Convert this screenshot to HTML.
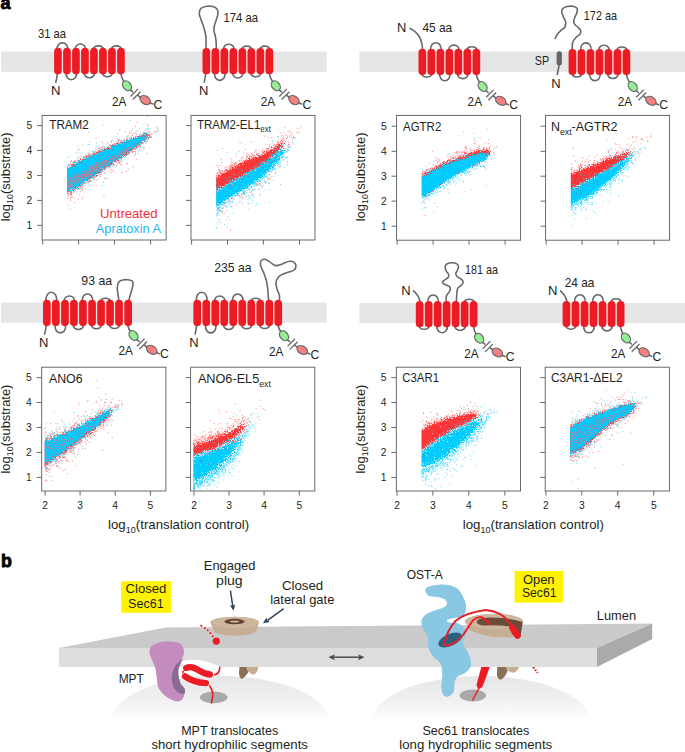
<!DOCTYPE html><html><head><meta charset="utf-8"><title>fig</title><style>html,body{margin:0;padding:0;background:#fff}svg{display:block}text{font-family:"Liberation Sans",sans-serif}</style></head><body>
<svg width="685" height="752" viewBox="0 0 685 752" fill="#231f20">
<rect width="685" height="752" fill="#fff"/>
<text x="0.4" y="9.2" font-size="18" fill="#000" font-weight="bold" stroke="#000" stroke-width="0.8">a</text>
<text x="0.9" y="566.9" font-size="17.8" fill="#000" font-weight="bold" stroke="#000" stroke-width="0.8">b</text>
<rect x="1" y="51.6" width="325.7" height="20.3" fill="#e6e6e6"/>
<rect x="359.5" y="51.5" width="325.5" height="20.4" fill="#e6e6e6"/>
<rect x="1" y="302.5" width="325.5" height="20.2" fill="#e6e6e6"/>
<rect x="359.5" y="303" width="325.5" height="20.2" fill="#e6e6e6"/>
<path d="M57.2,49.8C56,40.5 68.8,40.5 67.5,49.8M66.2,72.4C64.9,82.1 77.9,82.1 76.5,72.4M75.2,49.8C74.3,42.1 86.5,42.1 85.5,49.8M84.2,72.4C83.4,79.6 95.4,79.6 94.5,72.4M93.2,49.8C92.8,44.6 104,44.6 103.5,49.8M102.2,72.4C101.7,78.1 113.1,78.1 112.5,72.4M111.2,49.8C110.8,44.6 122,44.6 121.5,49.8M57.4,72.4Q57,78.4 55.8,82.2M120.7,72.4Q121.2,77.4 123.6,81.2M130.6,90.1L132.6,91.8M138,95.4L140,97.1M150.4,103.1L152.8,104" fill="none" stroke="#67686a" stroke-width="1.6" stroke-linecap="round"/>
<path d="M130.5,96.5L138.1,88.9M132.8,99.5L140.6,91.8" fill="none" stroke="#67686a" stroke-width="1.3"/>
<ellipse cx="127" cy="85.8" rx="5.4" ry="3.9" transform="rotate(52 127 85.8)" fill="#96ee94" stroke="#67686a" stroke-width="1.3"/>
<ellipse cx="145.2" cy="100.1" rx="5.6" ry="3.9" transform="rotate(33 145.2 100.1)" fill="#f68080" stroke="#67686a" stroke-width="1.3"/>
<rect x="54.1" y="47.8" width="7.7" height="26.6" rx="3.85" fill="#ed1c24"/>
<rect x="63.1" y="47.8" width="7.7" height="26.6" rx="3.85" fill="#ed1c24"/>
<rect x="72.1" y="47.8" width="7.7" height="26.6" rx="3.85" fill="#ed1c24"/>
<rect x="81.1" y="47.8" width="7.7" height="26.6" rx="3.85" fill="#ed1c24"/>
<rect x="90.1" y="47.8" width="7.7" height="26.6" rx="3.85" fill="#ed1c24"/>
<rect x="99.1" y="47.8" width="7.7" height="26.6" rx="3.85" fill="#ed1c24"/>
<rect x="108.1" y="47.8" width="7.7" height="26.6" rx="3.85" fill="#ed1c24"/>
<rect x="117.1" y="47.8" width="7.7" height="26.6" rx="3.85" fill="#ed1c24"/>
<text x="112" y="105.7" font-size="12.2" textLength="14.4" lengthAdjust="spacingAndGlyphs">2A</text>
<text x="153.6" y="108.6" font-size="12.2" textLength="8.8" lengthAdjust="spacingAndGlyphs">C</text>
<text x="37.9" y="38" font-size="12.2" textLength="28.2" lengthAdjust="spacingAndGlyphs">31 aa</text>
<text x="50.9" y="94.8" font-size="12.2" textLength="9.5" lengthAdjust="spacingAndGlyphs">N</text>
<path d="M206.2,50C206.1,48.8 206.1,45.3 206,43C206,40.7 206.1,38.5 205.8,36C205.4,33.5 204.8,30.7 204,28C203.3,25.3 201.9,22.4 201.2,20C200.4,17.6 199.3,15.5 199.3,13.5C199.3,11.5 199.9,9.4 201.2,8.2C202.4,7 204.9,6.6 206.8,6.3C208.8,6 211.1,6.1 212.8,6.6C214.6,7.1 216.5,8.3 217.3,9.5C218.2,10.7 218.1,12.2 217.9,14C217.8,15.8 216.8,18 216.2,20C215.6,22 214.7,24.2 214.3,26C214,27.8 213.8,29.2 214,31C214.2,32.8 215.2,35 215.5,37C215.9,39 216,40.8 216.2,43C216.3,45.2 216.3,48.8 216.3,50M214.7,72.3C213.2,83 226.4,83 224.9,72.3M223.7,50C222.7,42.3 234.9,42.3 233.9,50M232.7,72.3C231.8,79.8 243.8,79.8 242.9,72.3M241.7,50C241.2,44.8 252.4,44.8 251.9,50M250.7,72.3C250,78.3 261.6,78.3 261,72.3M259.7,50C259.2,44.8 270.4,44.8 270,50M205.8,72.3Q205.3,78.3 204.2,82.1M269.1,72.3Q269.7,77.3 272.4,81.2M279.4,90.1L281.4,91.8M286.8,95.4L288.8,97.1M299.2,103.1L301.6,104" fill="none" stroke="#67686a" stroke-width="1.6" stroke-linecap="round"/>
<path d="M279.3,96.5L286.9,88.9M281.6,99.5L289.4,91.8" fill="none" stroke="#67686a" stroke-width="1.3"/>
<ellipse cx="275.8" cy="85.8" rx="5.4" ry="3.9" transform="rotate(52 275.8 85.8)" fill="#96ee94" stroke="#67686a" stroke-width="1.3"/>
<ellipse cx="294" cy="100.1" rx="5.6" ry="3.9" transform="rotate(33 294 100.1)" fill="#f68080" stroke="#67686a" stroke-width="1.3"/>
<rect x="202.5" y="48" width="7.7" height="26.3" rx="3.85" fill="#ed1c24"/>
<rect x="211.5" y="48" width="7.7" height="26.3" rx="3.85" fill="#ed1c24"/>
<rect x="220.5" y="48" width="7.7" height="26.3" rx="3.85" fill="#ed1c24"/>
<rect x="229.5" y="48" width="7.7" height="26.3" rx="3.85" fill="#ed1c24"/>
<rect x="238.5" y="48" width="7.7" height="26.3" rx="3.85" fill="#ed1c24"/>
<rect x="247.5" y="48" width="7.7" height="26.3" rx="3.85" fill="#ed1c24"/>
<rect x="256.5" y="48" width="7.7" height="26.3" rx="3.85" fill="#ed1c24"/>
<rect x="265.5" y="48" width="7.7" height="26.3" rx="3.85" fill="#ed1c24"/>
<text x="260.8" y="105.7" font-size="12.2" textLength="14.4" lengthAdjust="spacingAndGlyphs">2A</text>
<text x="302.4" y="108.6" font-size="12.2" textLength="8.8" lengthAdjust="spacingAndGlyphs">C</text>
<text x="223.4" y="22.4" font-size="12.2" textLength="34.7" lengthAdjust="spacingAndGlyphs">174 aa</text>
<text x="198.9" y="94.8" font-size="12.2" textLength="9.4" lengthAdjust="spacingAndGlyphs">N</text>
<path d="M421.7,73.2C421.2,78.4 432.4,78.4 432,73.2M430.7,50.7C429.2,40 442.5,40 441,50.7M439.7,73.2C438.3,83.2 451.3,83.2 450,73.2M448.7,50.7C447.8,43.2 459.9,43.2 459,50.7M457.7,73.2C456.8,80.4 468.8,80.4 468,73.2M466.7,50.7C466.2,45.4 477.5,45.4 477,50.7M422.6,51C422.6,41.5 418.9,32.5 410.1,28.4M476.1,73.2Q476.7,78.2 479.2,81.9M486.2,90.8L488.2,92.5M493.6,96.1L495.6,97.8M506,103.8L508.4,104.7" fill="none" stroke="#67686a" stroke-width="1.6" stroke-linecap="round"/>
<path d="M486.1,97.2L493.7,89.6M488.4,100.2L496.2,92.5" fill="none" stroke="#67686a" stroke-width="1.3"/>
<ellipse cx="482.6" cy="86.5" rx="5.4" ry="3.9" transform="rotate(52 482.6 86.5)" fill="#96ee94" stroke="#67686a" stroke-width="1.3"/>
<ellipse cx="500.8" cy="100.8" rx="5.6" ry="3.9" transform="rotate(33 500.8 100.8)" fill="#f68080" stroke="#67686a" stroke-width="1.3"/>
<rect x="418.5" y="48.7" width="7.7" height="26.5" rx="3.85" fill="#ed1c24"/>
<rect x="427.5" y="48.7" width="7.7" height="26.5" rx="3.85" fill="#ed1c24"/>
<rect x="436.5" y="48.7" width="7.7" height="26.5" rx="3.85" fill="#ed1c24"/>
<rect x="445.5" y="48.7" width="7.7" height="26.5" rx="3.85" fill="#ed1c24"/>
<rect x="454.5" y="48.7" width="7.7" height="26.5" rx="3.85" fill="#ed1c24"/>
<rect x="463.5" y="48.7" width="7.7" height="26.5" rx="3.85" fill="#ed1c24"/>
<rect x="472.5" y="48.7" width="7.7" height="26.5" rx="3.85" fill="#ed1c24"/>
<text x="467.6" y="106.4" font-size="12.2" textLength="14.4" lengthAdjust="spacingAndGlyphs">2A</text>
<text x="509.2" y="109.3" font-size="12.2" textLength="8.8" lengthAdjust="spacingAndGlyphs">C</text>
<text x="397.1" y="32" font-size="12.2" textLength="9.3" lengthAdjust="spacingAndGlyphs">N</text>
<text x="422.4" y="32.4" font-size="12.2" textLength="29.8" lengthAdjust="spacingAndGlyphs">45 aa</text>
<path d="M571.8,73.1C571.3,78.3 582.5,78.3 582.1,73.1M580.8,50.9C579.2,40.2 592.6,40.2 591.1,50.9M589.8,73.1C588.4,83.1 601.4,83.1 600.1,73.1M598.8,50.9C597.9,43.4 610,43.4 609.1,50.9M607.8,73.1C606.9,80.3 618.9,80.3 618.1,73.1M616.8,50.9C616.2,45.6 627.6,45.6 627.1,50.9M572.2,51C572.3,49.6 572,44.8 572.6,42.6C573.1,40.4 574.5,39.1 575.7,37.8C576.8,36.5 578.8,35.8 579.7,34.6C580.5,33.4 580.9,31.8 580.7,30.6C580.4,29.4 579,28.2 578.1,27.2C577.1,26.2 575.6,25.6 574.9,24.6C574.1,23.6 573.6,22.4 573.7,21C573.7,19.6 574.7,18 575.2,16.5C575.8,15 576.8,13.4 577.1,12C577.4,10.6 577.7,9.1 577.1,8.2C576.4,7.2 574.6,6.6 573,6.3C571.3,6 568.8,6.1 567,6.6C565.2,7.1 563,8.1 562.2,9.2C561.3,10.3 561.7,11.6 562,13C562.2,14.4 563,16 563.7,17.5C564.3,19 565.5,20.4 565.7,22C565.9,23.6 565.7,25.5 564.9,27C564,28.5 561.7,29.6 560.5,30.8C559.2,32 558.1,33.2 557.2,34.5C556.4,35.8 555.6,37.9 555.2,38.6M626.2,73.1Q626.8,78.1 629.3,81.9M636.3,90.8L638.3,92.5M643.7,96.1L645.7,97.8M656.1,103.8L658.5,104.7" fill="none" stroke="#67686a" stroke-width="1.6" stroke-linecap="round"/>
<path d="M636.2,97.2L643.8,89.6M638.5,100.2L646.3,92.5" fill="none" stroke="#67686a" stroke-width="1.3"/>
<ellipse cx="632.7" cy="86.5" rx="5.4" ry="3.9" transform="rotate(52 632.7 86.5)" fill="#96ee94" stroke="#67686a" stroke-width="1.3"/>
<ellipse cx="650.9" cy="100.8" rx="5.6" ry="3.9" transform="rotate(33 650.9 100.8)" fill="#f68080" stroke="#67686a" stroke-width="1.3"/>
<rect x="568.6" y="48.9" width="7.7" height="26.2" rx="3.85" fill="#ed1c24"/>
<rect x="577.6" y="48.9" width="7.7" height="26.2" rx="3.85" fill="#ed1c24"/>
<rect x="586.6" y="48.9" width="7.7" height="26.2" rx="3.85" fill="#ed1c24"/>
<rect x="595.6" y="48.9" width="7.7" height="26.2" rx="3.85" fill="#ed1c24"/>
<rect x="604.6" y="48.9" width="7.7" height="26.2" rx="3.85" fill="#ed1c24"/>
<rect x="613.6" y="48.9" width="7.7" height="26.2" rx="3.85" fill="#ed1c24"/>
<rect x="622.6" y="48.9" width="7.7" height="26.2" rx="3.85" fill="#ed1c24"/>
<text x="617.7" y="106.4" font-size="12.2" textLength="14.4" lengthAdjust="spacingAndGlyphs">2A</text>
<text x="659.3" y="109.3" font-size="12.2" textLength="8.8" lengthAdjust="spacingAndGlyphs">C</text>
<text x="583.8" y="20" font-size="12.2" textLength="33.3" lengthAdjust="spacingAndGlyphs">172 aa</text>
<text x="551.2" y="87.5" font-size="12.2" textLength="9.4" lengthAdjust="spacingAndGlyphs">N</text>
<text x="534.8" y="65" font-size="12.2" textLength="14.3" lengthAdjust="spacingAndGlyphs">SP</text>
<path d="M559.3,64L557.3,74.5" stroke="#67686a" stroke-width="1.6" fill="none" stroke-linecap="round"/>
<rect x="556.6" y="51.2" width="5.3" height="14.2" rx="2.6" fill="#636466"/>
<path d="M46.1,301.8C44.3,289.1 58.4,289.1 56.5,301.8M55.2,324.2C53.5,335.7 67.2,335.7 65.5,324.2M64.2,301.8C63.3,294.1 75.5,294.1 74.5,301.8M73.2,324.2C72.4,331.3 84.4,331.3 83.6,324.2M82.3,301.8C80.8,291.3 94.1,291.3 92.6,301.8M91.3,324.2C90.6,330.3 102.3,330.3 101.6,324.2M100.3,301.8C99.9,297 111.1,297 110.7,301.8M109.4,324.2C108.8,329.9 120.3,329.9 119.7,324.2M118.9,302C118.8,300.9 118.5,297.9 118.2,295.6C117.9,293.3 117.2,290.2 117.3,288C117.4,285.8 117.7,283.5 118.6,282.2C119.5,280.9 121,280.4 122.6,280C124.2,279.6 126.5,279.6 128.1,279.8C129.7,280 131.6,280.4 132.4,281.3C133.2,282.2 133.1,283.6 133,285C132.9,286.4 132.1,288.3 131.7,290C131.2,291.7 130.8,293 130.3,295C129.8,297 128.8,300.8 128.5,302M46.2,324.2Q45.9,330.2 44.6,334M127.8,324.2Q128.4,329.2 130.1,330.9M137.1,339.8L139.1,341.5M144.5,345.1L146.5,346.8M156.9,352.8L159.3,353.7" fill="none" stroke="#67686a" stroke-width="1.6" stroke-linecap="round"/>
<path d="M137,346.2L144.6,338.6M139.3,349.2L147.1,341.5" fill="none" stroke="#67686a" stroke-width="1.3"/>
<ellipse cx="133.5" cy="335.5" rx="5.4" ry="3.9" transform="rotate(52 133.5 335.5)" fill="#96ee94" stroke="#67686a" stroke-width="1.3"/>
<ellipse cx="151.7" cy="349.8" rx="5.6" ry="3.9" transform="rotate(33 151.7 349.8)" fill="#f68080" stroke="#67686a" stroke-width="1.3"/>
<rect x="43" y="299.8" width="7.7" height="26.4" rx="3.85" fill="#ed1c24"/>
<rect x="52" y="299.8" width="7.7" height="26.4" rx="3.85" fill="#ed1c24"/>
<rect x="61.1" y="299.8" width="7.7" height="26.4" rx="3.85" fill="#ed1c24"/>
<rect x="70.1" y="299.8" width="7.7" height="26.4" rx="3.85" fill="#ed1c24"/>
<rect x="79.1" y="299.8" width="7.7" height="26.4" rx="3.85" fill="#ed1c24"/>
<rect x="88.2" y="299.8" width="7.7" height="26.4" rx="3.85" fill="#ed1c24"/>
<rect x="97.2" y="299.8" width="7.7" height="26.4" rx="3.85" fill="#ed1c24"/>
<rect x="106.2" y="299.8" width="7.7" height="26.4" rx="3.85" fill="#ed1c24"/>
<rect x="115.2" y="299.8" width="7.7" height="26.4" rx="3.85" fill="#ed1c24"/>
<rect x="124.3" y="299.8" width="7.7" height="26.4" rx="3.85" fill="#ed1c24"/>
<text x="118.5" y="355.4" font-size="12.2" textLength="14.4" lengthAdjust="spacingAndGlyphs">2A</text>
<text x="160.1" y="358.3" font-size="12.2" textLength="8.8" lengthAdjust="spacingAndGlyphs">C</text>
<text x="81.3" y="284.7" font-size="12.2" textLength="30.8" lengthAdjust="spacingAndGlyphs">93 aa</text>
<text x="38.9" y="346.9" font-size="12.2" textLength="9.4" lengthAdjust="spacingAndGlyphs">N</text>
<path d="M196.6,301.8C194.7,289.1 208.7,289.1 206.8,301.8M205.6,324.2C203.9,335.7 217.5,335.7 215.8,324.2M214.6,301.8C213.6,294.1 225.8,294.1 224.8,301.8M223.6,324.2C222.7,331.3 234.7,331.3 233.8,324.2M232.6,301.8C231.1,291.3 244.3,291.3 242.8,301.8M241.6,324.2C240.9,330.3 252.5,330.3 251.8,324.2M250.6,301.8C250.2,297 261.2,297 260.9,301.8M259.6,324.2C259,329.9 270.4,329.9 269.9,324.2M268.6,302C268.6,300.8 268.4,297.3 268.2,295C268.1,292.7 267.9,290.6 267.6,288.2C267.3,285.8 267.1,283.2 266.4,280.6C265.8,278 264.6,275 263.6,272.5C262.7,270 261,267.5 260.6,265.5C260.2,263.5 260.6,261.7 261.2,260.6C261.9,259.6 263.4,259.1 264.6,259.2C265.9,259.3 267.5,260.4 268.8,261.2C270,262 271.1,263.1 272.2,263.8C273.4,264.5 274.4,265.4 275.8,265.6C277.1,265.8 278.8,265.3 280.2,264.8C281.8,264.3 283.2,263.4 284.8,262.8C286.3,262.2 288.2,261.4 289.8,261.3C291.2,261.2 292.7,261.4 293.8,262.2C294.8,263 295.9,264.7 295.9,266C296,267.3 295.4,268.9 294.1,270C292.9,271.1 290.2,271.6 288.2,272.3C286.3,273 284,273.4 282.2,274.4C280.5,275.3 278.8,276.6 277.8,278C276.7,279.4 276,281.1 275.9,283C275.9,284.9 276.7,287.6 277.2,289.7C277.8,291.8 279.1,293.4 279.4,295.5C279.8,297.6 279.3,300.9 279.2,302M196.7,324.2Q196.2,330.2 195.1,334M277.9,324.2Q278.6,329.2 280.6,331.1M287.6,340L289.6,341.7M295,345.3L297,347M307.4,353L309.8,353.9" fill="none" stroke="#67686a" stroke-width="1.6" stroke-linecap="round"/>
<path d="M287.5,346.4L295.1,338.8M289.8,349.4L297.6,341.7" fill="none" stroke="#67686a" stroke-width="1.3"/>
<ellipse cx="284" cy="335.7" rx="5.4" ry="3.9" transform="rotate(52 284 335.7)" fill="#96ee94" stroke="#67686a" stroke-width="1.3"/>
<ellipse cx="302.2" cy="350" rx="5.6" ry="3.9" transform="rotate(33 302.2 350)" fill="#f68080" stroke="#67686a" stroke-width="1.3"/>
<rect x="193.4" y="299.8" width="7.7" height="26.4" rx="3.85" fill="#ed1c24"/>
<rect x="202.4" y="299.8" width="7.7" height="26.4" rx="3.85" fill="#ed1c24"/>
<rect x="211.4" y="299.8" width="7.7" height="26.4" rx="3.85" fill="#ed1c24"/>
<rect x="220.4" y="299.8" width="7.7" height="26.4" rx="3.85" fill="#ed1c24"/>
<rect x="229.4" y="299.8" width="7.7" height="26.4" rx="3.85" fill="#ed1c24"/>
<rect x="238.4" y="299.8" width="7.7" height="26.4" rx="3.85" fill="#ed1c24"/>
<rect x="247.4" y="299.8" width="7.7" height="26.4" rx="3.85" fill="#ed1c24"/>
<rect x="256.4" y="299.8" width="7.7" height="26.4" rx="3.85" fill="#ed1c24"/>
<rect x="265.4" y="299.8" width="7.7" height="26.4" rx="3.85" fill="#ed1c24"/>
<rect x="274.4" y="299.8" width="7.7" height="26.4" rx="3.85" fill="#ed1c24"/>
<text x="269" y="355.6" font-size="12.2" textLength="14.4" lengthAdjust="spacingAndGlyphs">2A</text>
<text x="310.6" y="358.5" font-size="12.2" textLength="8.8" lengthAdjust="spacingAndGlyphs">C</text>
<text x="214.2" y="272.4" font-size="12.2" textLength="37.3" lengthAdjust="spacingAndGlyphs">235 aa</text>
<text x="189.3" y="346.9" font-size="12.2" textLength="9.4" lengthAdjust="spacingAndGlyphs">N</text>
<path d="M419,325.4C418.5,330.6 429.7,330.6 429.3,325.4M428,303.1C426.4,292.2 439.8,292.2 438.3,303.1M437,325.4C435.6,335.1 448.6,335.1 447.3,325.4M446.1,303C446.1,301.9 445.8,298.2 446.3,296.5C446.7,294.8 448,293.8 448.7,292.6C449.3,291.5 450.1,290.6 450.3,289.6C450.4,288.6 450.3,287.4 449.5,286.6C448.6,285.8 446.3,285.3 445.2,284.6C444,283.9 442.4,283.2 442.4,282.4C442.3,281.6 443.7,280.8 444.7,280C445.6,279.2 447.4,278.5 448.1,277.6C448.7,276.7 449,275.7 448.7,274.6C448.4,273.5 446.9,272.3 446.3,271C445.7,269.7 444.9,268.2 445.1,267C445.2,265.8 446,264.5 447.2,263.8C448.3,263.1 450.5,262.8 452.2,262.8C453.8,262.8 455.8,263.1 456.9,263.8C457.9,264.5 458.4,265.9 458.5,267C458.5,268.1 457.6,269.5 457.2,270.6C456.7,271.7 455.6,272.7 455.7,273.8C455.7,274.9 456.6,276 457.7,277C458.7,278 461,278.7 461.9,279.6C462.8,280.5 463.2,281.6 463.1,282.6C462.9,283.6 461.8,284.6 460.9,285.6C460,286.6 458.3,287.2 457.7,288.4C457,289.6 457.1,290.6 456.9,293C456.6,295.4 456.4,301.3 456.3,303M455,325.4C454.2,332.2 466,332.2 465.3,325.4M464,303.1C463.5,297.9 474.7,297.9 474.3,303.1M420.2,303C420,298.5 417.2,294 413.5,290.8M473.4,325.4Q474,330.4 475.8,333.6M482.8,342.5L484.8,344.2M490.2,347.8L492.2,349.5M502.6,355.5L505,356.4" fill="none" stroke="#67686a" stroke-width="1.6" stroke-linecap="round"/>
<path d="M482.7,348.9L490.3,341.3M485,351.9L492.8,344.2" fill="none" stroke="#67686a" stroke-width="1.3"/>
<ellipse cx="479.2" cy="338.2" rx="5.4" ry="3.9" transform="rotate(52 479.2 338.2)" fill="#96ee94" stroke="#67686a" stroke-width="1.3"/>
<ellipse cx="497.4" cy="352.5" rx="5.6" ry="3.9" transform="rotate(33 497.4 352.5)" fill="#f68080" stroke="#67686a" stroke-width="1.3"/>
<rect x="415.8" y="301.1" width="7.7" height="26.3" rx="3.85" fill="#ed1c24"/>
<rect x="424.8" y="301.1" width="7.7" height="26.3" rx="3.85" fill="#ed1c24"/>
<rect x="433.8" y="301.1" width="7.7" height="26.3" rx="3.85" fill="#ed1c24"/>
<rect x="442.8" y="301.1" width="7.7" height="26.3" rx="3.85" fill="#ed1c24"/>
<rect x="451.8" y="301.1" width="7.7" height="26.3" rx="3.85" fill="#ed1c24"/>
<rect x="460.8" y="301.1" width="7.7" height="26.3" rx="3.85" fill="#ed1c24"/>
<rect x="469.8" y="301.1" width="7.7" height="26.3" rx="3.85" fill="#ed1c24"/>
<text x="464.2" y="358.1" font-size="12.2" textLength="14.4" lengthAdjust="spacingAndGlyphs">2A</text>
<text x="505.8" y="361" font-size="12.2" textLength="8.8" lengthAdjust="spacingAndGlyphs">C</text>
<text x="401.2" y="294.8" font-size="12.2" textLength="9.4" lengthAdjust="spacingAndGlyphs">N</text>
<text x="465" y="274.1" font-size="12.2" textLength="33" lengthAdjust="spacingAndGlyphs">181 aa</text>
<path d="M565.8,325.2C565.2,330.5 576.6,330.5 576.1,325.2M574.8,302.9C573.2,292 586.7,292 585.1,302.9M583.8,325.2C582.4,335.3 595.5,335.3 594.1,325.2M592.8,302.9C591.3,292 604.7,292 603.2,302.9M601.9,325.2C601,332.7 613.1,332.7 612.2,325.2M610.9,302.9C610.4,297.3 621.8,297.3 621.2,302.9M567,303C566.8,298.5 564,294 560.5,290.9M620.3,325.2Q620.9,330.2 622.5,333.4M629.5,342.3L631.5,344M636.9,347.6L638.9,349.3M649.3,355.3L651.7,356.2" fill="none" stroke="#67686a" stroke-width="1.6" stroke-linecap="round"/>
<path d="M629.4,348.7L637,341.1M631.7,351.7L639.5,344" fill="none" stroke="#67686a" stroke-width="1.3"/>
<ellipse cx="625.9" cy="338" rx="5.4" ry="3.9" transform="rotate(52 625.9 338)" fill="#96ee94" stroke="#67686a" stroke-width="1.3"/>
<ellipse cx="644.1" cy="352.3" rx="5.6" ry="3.9" transform="rotate(33 644.1 352.3)" fill="#f68080" stroke="#67686a" stroke-width="1.3"/>
<rect x="562.6" y="300.9" width="7.7" height="26.3" rx="3.85" fill="#ed1c24"/>
<rect x="571.6" y="300.9" width="7.7" height="26.3" rx="3.85" fill="#ed1c24"/>
<rect x="580.7" y="300.9" width="7.7" height="26.3" rx="3.85" fill="#ed1c24"/>
<rect x="589.7" y="300.9" width="7.7" height="26.3" rx="3.85" fill="#ed1c24"/>
<rect x="598.7" y="300.9" width="7.7" height="26.3" rx="3.85" fill="#ed1c24"/>
<rect x="607.8" y="300.9" width="7.7" height="26.3" rx="3.85" fill="#ed1c24"/>
<rect x="616.8" y="300.9" width="7.7" height="26.3" rx="3.85" fill="#ed1c24"/>
<text x="610.9" y="357.9" font-size="12.2" textLength="14.4" lengthAdjust="spacingAndGlyphs">2A</text>
<text x="652.5" y="360.8" font-size="12.2" textLength="8.8" lengthAdjust="spacingAndGlyphs">C</text>
<text x="547.9" y="294.6" font-size="12.2" textLength="9.4" lengthAdjust="spacingAndGlyphs">N</text>
<text x="564.7" y="286.7" font-size="12.2" textLength="29.8" lengthAdjust="spacingAndGlyphs">24 aa</text>
<filter id="f0" x="-30%" y="-30%" width="160%" height="160%" color-interpolation-filters="sRGB"><feGaussianBlur in="SourceAlpha" stdDeviation="2.4" result="b"/><feTurbulence type="fractalNoise" baseFrequency="0.87" numOctaves="2" seed="3" result="n"/><feColorMatrix in="n" type="matrix" values="0 0 0 0 0 0 0 0 0 0 0 0 0 0 0 0 0 0 1 0" result="na"/><feComposite in="b" in2="na" operator="arithmetic" k1="0" k2="1" k3="1.35" k4="-0.675" result="m"/><feComponentTransfer in="m" result="t"><feFuncA type="linear" slope="3" intercept="-1"/></feComponentTransfer><feComponentTransfer in="b" result="g"><feFuncA type="linear" slope="14"/></feComponentTransfer><feComposite in="t" in2="g" operator="in" result="t2"/><feFlood flood-color="#ff3333"/><feComposite in2="t2" operator="in"/></filter>
<clipPath id="c0"><rect x="67.1" y="115.9" width="98.5" height="123.6"/></clipPath>
<g clip-path="url(#c0)"><polygon points="59.1,174.3 67.1,168.8 75,163.4 85,157.9 97,152.4 110,146.4 125.4,140.8 137,136.8 146,133.8 150.5,132.6 150.5,135.4 147,138.9 142.5,142.4 135,147.9 125.4,155 110,164.9 97,174 88,180.4 78,187.4 72,190.9 67.1,191.9 59.1,193.5" filter="url(#f0)"/></g>
<filter id="f1" x="-30%" y="-30%" width="160%" height="160%" color-interpolation-filters="sRGB"><feGaussianBlur in="SourceAlpha" stdDeviation="2.2" result="b"/><feTurbulence type="fractalNoise" baseFrequency="0.87" numOctaves="2" seed="8" result="n"/><feColorMatrix in="n" type="matrix" values="0 0 0 0 0 0 0 0 0 0 0 0 0 0 0 0 0 0 1 0" result="na"/><feComposite in="b" in2="na" operator="arithmetic" k1="0" k2="0.93" k3="1.35" k4="-0.675" result="m"/><feComponentTransfer in="m" result="t"><feFuncA type="linear" slope="3" intercept="-1"/></feComponentTransfer><feComponentTransfer in="b" result="g"><feFuncA type="linear" slope="14"/></feComponentTransfer><feComposite in="t" in2="g" operator="in" result="t2"/><feFlood flood-color="#00ccff"/><feComposite in2="t2" operator="in"/></filter>
<g clip-path="url(#c0)"><polygon points="59.1,174.6 67.1,169.1 75,163.7 85,158.2 97,152.7 110,146.7 125.4,141.1 137,137.1 146,134.1 150.5,132.9 150.5,135.1 147,138.6 142.5,142.1 135,147.6 125.4,154.7 110,164.6 97,173.7 88,180.1 78,187.1 72,190.6 67.1,191.6 59.1,193.2" filter="url(#f1)"/></g>
<filter id="f2" x="-30%" y="-30%" width="160%" height="160%" color-interpolation-filters="sRGB"><feGaussianBlur in="SourceAlpha" stdDeviation="1.8" result="b"/><feTurbulence type="fractalNoise" baseFrequency="0.87" numOctaves="2" seed="5" result="n"/><feColorMatrix in="n" type="matrix" values="0 0 0 0 0 0 0 0 0 0 0 0 0 0 0 0 0 0 1 0" result="na"/><feComposite in="b" in2="na" operator="arithmetic" k1="0" k2="0.58" k3="1.5" k4="-0.75" result="m"/><feComponentTransfer in="m" result="t"><feFuncA type="linear" slope="3" intercept="-1"/></feComponentTransfer><feComponentTransfer in="b" result="g"><feFuncA type="linear" slope="14"/></feComponentTransfer><feComposite in="t" in2="g" operator="in" result="t2"/><feFlood flood-color="#b0809a"/><feComposite in2="t2" operator="in"/></filter>
<g clip-path="url(#c0)"><polygon points="59.1,181.9 67.1,177.8 97,162.3 125.4,147.8 152,133.3 152,134.7 125.4,153.7 97,172.7 67.1,190.2 59.1,194.9" filter="url(#f2)"/></g>
<path d="M67.1,198.2h.1M67.4,193.2h.1M67.4,167.2h.1M67.5,193.1h.1M67.6,196.3h.1M67.6,205.2h.1M68.1,193.9h.1M68.8,195.5h.1M69,164.9h.1M69.1,195.3h.1M70.3,209.1h.1M70.4,199h.1M70.5,194.1h.1M70.6,193.9h.1M70.6,200.6h.1M70.7,192.2h.1M70.9,197.7h.1M71.1,192h.1M71.1,161.7h.1M71.1,192.6h.1M71.4,194.7h.1M71.4,194.8h.1M71.4,160.7h.1M71.6,192.8h.1M71.6,194.5h.1M71.9,196.8h.1M71.9,197.1h.1M73.2,163.4h.1M73.7,191.2h.1M73.8,161.6h.1M74,197.7h.1M74.3,202.7h.1M75.1,161.3h.1M75.2,161.8h.1M76.2,161.6h.1M77.6,160.3h.1M77.7,150h.1M78,145.8h.1M78.2,199.3h.1M78.6,188.3h.1M79,188.2h.1M79.2,194.9h.1M79.4,149.3h.1M79.7,189.3h.1M80,187.2h.1M80.1,156.7h.1M80.3,191.7h.1M81.2,187.5h.1M82.3,198.8h.1M82.6,190h.1M82.8,188.8h.1M82.9,197.2h.1M83,144.1h.1M83.9,156.8h.1M85.1,185.4h.1M85.5,154.2h.1M85.6,188.6h.1M85.7,156.9h.1M86.6,155.4h.1M87.3,182.3h.1M88.4,181.9h.1M88.4,153.7h.1M88.7,181.2h.1M88.9,132.2h.1M89.1,154h.1M89.3,186.6h.1M89.3,180.4h.1M89.7,181.6h.1M89.9,153.1h.1M89.9,150.9h.1M91,180.3h.1M92.5,185.3h.1M93.1,152h.1M94.1,179.3h.1M94.5,177.1h.1M94.8,177.2h.1M95.5,176.4h.1M95.9,138.7h.1M96.2,185.3h.1M97.1,180.6h.1M97.4,175.3h.1M97.5,175.5h.1M98.5,150.6h.1M98.5,148.6h.1M99.6,148.2h.1M99.7,174h.1M99.9,148.3h.1M100.4,176.4h.1M101,173.8h.1M101.1,174.5h.1M101.2,147.4h.1M101.6,149.6h.1M101.9,146.1h.1M102.5,143h.1M103.5,182.4h.1M103.8,125.1h.1M103.9,196.3h.1M104.9,173h.1M105.1,178.2h.1M105.2,172.8h.1M106.1,143.9h.1M107,178.4h.1M107.4,170.8h.1M108.1,167.9h.1M110,169.8h.1M110.2,165.8h.1M110.4,167.9h.1M111.3,141.1h.1M111.4,142.1h.1M111.4,172.3h.1M111.7,164.7h.1M111.8,170.2h.1M112.2,166.1h.1M112.4,144.9h.1M112.7,170.1h.1M113.6,165.6h.1M114.1,171.8h.1M116.5,165.6h.1M116.9,141.6h.1M117.8,133.1h.1M117.8,160.6h.1M117.9,139.9h.1M117.9,163.1h.1M118.3,162.4h.1M118.7,160.8h.1M119.2,162.5h.1M119.3,139.8h.1M119.4,163.7h.1M119.7,129.8h.1M119.8,140.1h.1M120.5,165.1h.1M120.8,161.1h.1M121.2,164h.1M121.4,159.7h.1M121.5,140.3h.1M122.1,172.5h.1M124.7,140.3h.1M125.4,132.1h.1M126.5,171.1h.1M126.6,163.7h.1M126.7,138h.1M127.2,154.6h.1M127.2,163.5h.1M127.9,135.3h.1M128.4,169.4h.1M129.3,133h.1M129.8,153h.1M130,138h.1M130.9,132.4h.1M131.6,130.5h.1M132.5,136.1h.1M132.7,151.5h.1M132.7,133.6h.1M133.1,166.8h.1M134,151.5h.1M134.9,155.1h.1M135.1,148.7h.1M135.2,126.4h.1M135.5,151.8h.1M135.9,133.2h.1M135.9,136h.1M136.7,122.3h.1M136.8,159.5h.1M137.1,147.7h.1M137.2,134.4h.1M137.8,153.2h.1M138.1,130.2h.1M138.8,146.3h.1M139,150.2h.1M139.2,146.3h.1M139.9,148.2h.1M140.6,146.6h.1M144,148.2h.1M145,132.3h.1M145.2,133.1h.1M145.8,143h.1M146.9,117h.1M146.9,153.9h.1M147.2,141.7h.1M147.5,124.6h.1M147.9,125.6h.1M148.4,138.2h.1M149,132.2h.1M149.5,137.3h.1M150.9,133.5h.1M151.1,135.1h.1M154.3,131.9h.1M156.1,131.8h.1M157.3,127.7h.1M157.7,129.1h.1" stroke="#ff3333" stroke-width="0.75" stroke-linecap="square" fill="none" opacity="0.7"/>
<path d="M67.1,167.4h.1M67.5,157.3h.1M68.3,165h.1M68.8,198.8h.1M69,193h.1M69.3,163.7h.1M70,194h.1M70,156.5h.1M70.9,161.9h.1M71.4,164.4h.1M71.6,164.9h.1M72.7,162.4h.1M73.9,162.8h.1M74.6,191.3h.1M75.1,189.7h.1M75.3,160.8h.1M75.4,190.7h.1M75.6,153.3h.1M75.9,193.6h.1M77.2,192h.1M77.5,160.4h.1M77.7,152.5h.1M77.8,189.4h.1M77.9,156.5h.1M78,188.7h.1M78.1,188.4h.1M78.1,160.4h.1M79.7,158.7h.1M79.8,153.3h.1M80.1,188.8h.1M81.4,188.8h.1M83.2,156.1h.1M83.5,186h.1M85.2,155.8h.1M87.9,181.3h.1M88,182.4h.1M88.1,144.5h.1M88.5,184.1h.1M89.2,144.5h.1M89.4,181.2h.1M89.5,141.7h.1M89.8,154.6h.1M90.3,184.7h.1M91,181.5h.1M92.3,178.1h.1M92.5,151.7h.1M92.8,153.1h.1M92.9,150.8h.1M93,178.4h.1M93.4,151.1h.1M94.2,179.5h.1M94.9,150.5h.1M95.5,148.7h.1M95.5,152.2h.1M95.5,151.5h.1M95.6,176.1h.1M95.9,146.3h.1M96.5,176.3h.1M96.5,142.9h.1M98.1,179.2h.1M98.9,174.8h.1M99.1,173.3h.1M99.3,175.2h.1M99.4,145.9h.1M100.9,172.4h.1M101.9,141.6h.1M102.5,185.8h.1M102.6,149.2h.1M102.6,172h.1M103.2,146.8h.1M104,147h.1M104.5,147.9h.1M105.4,178.7h.1M107.5,142.4h.1M108,167.2h.1M109.2,145.3h.1M109.7,166.8h.1M110.2,167h.1M110.4,166.2h.1M110.7,144.1h.1M112.1,140.3h.1M112.2,164.2h.1M114.7,167.2h.1M116.2,166h.1M117.8,138.8h.1M118.1,141.2h.1M120.5,161.2h.1M121.7,140.8h.1M122.6,160.9h.1M124.3,157.8h.1M125,139.9h.1M126.2,155.1h.1M126.3,136.6h.1M127,157.1h.1M130.2,138h.1M130.4,120.8h.1M132.8,128.6h.1M134.4,154.5h.1M134.8,133.3h.1M135.3,149h.1M135.4,153.1h.1M136.7,131.3h.1M138.9,151h.1M139.5,128.2h.1M140.4,145.1h.1M140.5,147.4h.1M140.9,134.2h.1M143.1,142.8h.1M143.3,132.2h.1M143.3,147.8h.1M143.5,132.8h.1M143.5,143h.1M143.9,147.6h.1M144.2,133.7h.1M145,123.2h.1M145.1,141.4h.1M145.3,131.2h.1M146.3,129.8h.1M147.2,128.7h.1M147.3,139.7h.1M148,128.8h.1M148,128h.1M150.2,129h.1M151.5,136.8h.1M151.6,137.4h.1M155.1,132.2h.1M155.7,126.6h.1M157.2,131.7h.1M157.8,131h.1M158,130.3h.1" stroke="#00ccff" stroke-width="0.75" stroke-linecap="square" fill="none" opacity="0.7"/>
<text x="100" y="218" font-size="12.8" fill="#f0323c" textLength="57.6" lengthAdjust="spacingAndGlyphs">Untreated</text>
<text x="95.8" y="232.8" font-size="12.8" fill="#1fb9ec" textLength="65.2" lengthAdjust="spacingAndGlyphs">Apratoxin A</text>
<rect x="42.1" y="115.4" width="124" height="124.6" fill="none" stroke="#58595b" stroke-width="0.9"/>
<path d="M42.7,240v4.6M78.6,240v4.6M114.5,240v4.6M150.6,240v4.6M42.1,125.6h-5M42.1,150.5h-5M42.1,175.5h-5M42.1,200.4h-5M42.1,225.4h-5" stroke="#58595b" stroke-width="0.9" fill="none"/>
<text x="32.2" y="129.2" font-size="10.3" text-anchor="end">5</text>
<text x="32.2" y="154.1" font-size="10.3" text-anchor="end">4</text>
<text x="32.2" y="179.1" font-size="10.3" text-anchor="end">3</text>
<text x="32.2" y="204" font-size="10.3" text-anchor="end">2</text>
<text x="32.2" y="229" font-size="10.3" text-anchor="end">1</text>
<text x="49.3" y="128.9" font-size="12.4" textLength="39.5" lengthAdjust="spacingAndGlyphs">TRAM2</text>
<filter id="f3" x="-30%" y="-30%" width="160%" height="160%" color-interpolation-filters="sRGB"><feGaussianBlur in="SourceAlpha" stdDeviation="2.3" result="b"/><feTurbulence type="fractalNoise" baseFrequency="0.87" numOctaves="2" seed="3" result="n"/><feColorMatrix in="n" type="matrix" values="0 0 0 0 0 0 0 0 0 0 0 0 0 0 0 0 0 0 1 0" result="na"/><feComposite in="b" in2="na" operator="arithmetic" k1="0" k2="1" k3="1.35" k4="-0.675" result="m"/><feComponentTransfer in="m" result="t"><feFuncA type="linear" slope="3" intercept="-1"/></feComponentTransfer><feComponentTransfer in="b" result="g"><feFuncA type="linear" slope="14"/></feComponentTransfer><feComposite in="t" in2="g" operator="in" result="t2"/><feFlood flood-color="#ff3333"/><feComposite in2="t2" operator="in"/></filter>
<clipPath id="c1"><rect x="216.1" y="115.9" width="98.4" height="123.6"/></clipPath>
<g clip-path="url(#c1)"><polygon points="208.1,182 216.1,177.3 225,172 235,166 245,160.5 255,156.8 264,153.5 272,148.5 279,144 285,140.8 290.5,138 290.5,137 288,140 279,151 264,164 245,175 216.1,191 208.1,195.5" filter="url(#f3)"/></g>
<filter id="f4" x="-30%" y="-30%" width="160%" height="160%" color-interpolation-filters="sRGB"><feGaussianBlur in="SourceAlpha" stdDeviation="2.6" result="b"/><feTurbulence type="fractalNoise" baseFrequency="0.87" numOctaves="2" seed="8" result="n"/><feColorMatrix in="n" type="matrix" values="0 0 0 0 0 0 0 0 0 0 0 0 0 0 0 0 0 0 1 0" result="na"/><feComposite in="b" in2="na" operator="arithmetic" k1="0" k2="1" k3="1.35" k4="-0.675" result="m"/><feComponentTransfer in="m" result="t"><feFuncA type="linear" slope="3" intercept="-1"/></feComponentTransfer><feComponentTransfer in="b" result="g"><feFuncA type="linear" slope="14"/></feComponentTransfer><feComposite in="t" in2="g" operator="in" result="t2"/><feFlood flood-color="#00ccff"/><feComposite in2="t2" operator="in"/></filter>
<g clip-path="url(#c1)"><polygon points="208.1,196.6 216.1,191.6 230,182.9 245,173.9 255,168.6 264,162.9 272,157.1 279,151.6 284,148.9 287.5,147.1 287.5,148.9 281,157.4 275.3,164.4 270,169.9 264,175.4 255,182.9 245,189.7 235.4,193.9 225,201.4 216.1,207.4 208.1,212.8" filter="url(#f4)"/></g>
<path d="M216.4,165.5h.1M216.5,192h.1M216.6,175.1h.1M216.9,173.2h.1M217,175.3h.1M217.2,194.9h.1M217.3,150.4h.1M217.3,173.4h.1M218.1,167.2h.1M218.2,174.7h.1M218.4,172.4h.1M218.5,174.6h.1M218.8,169.3h.1M219,170.8h.1M219,202.5h.1M219.4,172.6h.1M219.4,165.5h.1M219.6,170h.1M220,171h.1M220.3,172.6h.1M221,170.9h.1M221,172.7h.1M221.3,159.7h.1M221.5,162.6h.1M221.6,166.4h.1M221.8,189h.1M221.9,170.8h.1M222,148.2h.1M222.1,170.9h.1M222.8,172h.1M223.5,191.5h.1M223.6,191.7h.1M224,171.3h.1M224.1,213.4h.1M224.7,171.1h.1M225,170.6h.1M225.3,168h.1M225.3,169.8h.1M225.3,167.6h.1M227,166.6h.1M227.6,152.3h.1M227.9,198.5h.1M228.4,167.7h.1M229.5,186.4h.1M229.8,185.1h.1M229.8,166.5h.1M229.9,165h.1M230,185.6h.1M230.5,167.7h.1M230.8,187.8h.1M230.8,165h.1M230.9,158.6h.1M230.9,167.1h.1M231.4,167h.1M231.4,162.7h.1M231.6,164.9h.1M231.6,130.3h.1M231.7,160.2h.1M232.1,166h.1M232.2,185.4h.1M232.4,165.4h.1M232.4,166.2h.1M232.9,162.7h.1M233.1,164.9h.1M233.9,184.3h.1M233.9,165h.1M234.1,163.5h.1M234.4,164.8h.1M235.1,163h.1M235.7,163h.1M236.1,163h.1M236.5,156.4h.1M237.1,191.7h.1M239,151.2h.1M239,160.8h.1M239.3,160.7h.1M239.7,184.2h.1M239.7,182.7h.1M241,160.2h.1M241.5,158.1h.1M241.7,178.9h.1M241.8,160.2h.1M242.6,178.6h.1M242.7,156.1h.1M243,158.1h.1M243.8,153.2h.1M245.4,149.4h.1M245.5,159.3h.1M246.2,175.7h.1M246.4,157h.1M246.6,156.2h.1M246.7,153.9h.1M246.7,153.2h.1M247.2,157.7h.1M247.2,157.1h.1M247.6,155.5h.1M248.6,154.6h.1M248.7,176.7h.1M249.2,156.8h.1M249.7,156.2h.1M249.8,157.1h.1M249.9,156.2h.1M250.8,126.8h.1M251.1,141.9h.1M251.5,153.3h.1M251.6,173.5h.1M251.6,156.4h.1M251.9,155.1h.1M252.4,154.7h.1M252.9,155.7h.1M253.1,153.6h.1M254,155.6h.1M254.6,171.2h.1M254.7,152.3h.1M255,155.3h.1M255.6,150.9h.1M256,149.9h.1M256.7,154.5h.1M256.7,153.6h.1M256.8,154.7h.1M257.3,152.1h.1M258,170.7h.1M258.5,153.8h.1M259,150.4h.1M261.8,167.3h.1M262,151.4h.1M262.2,152h.1M262.6,152.6h.1M262.8,150.8h.1M262.9,148.8h.1M263.3,167.3h.1M264,150.9h.1M264.8,171.3h.1M264.8,136.2h.1M265.6,144.3h.1M266.1,163.6h.1M266.4,150h.1M266.8,150.1h.1M267,149.1h.1M267,148.5h.1M267.8,148.8h.1M268,148.3h.1M268.2,137.5h.1M268.6,162.2h.1M268.8,148.7h.1M268.8,144.7h.1M269.3,161.3h.1M269.4,145.9h.1M269.5,147.2h.1M271,162.8h.1M271.3,147.7h.1M271.6,146.3h.1M271.6,137.9h.1M272.1,143.7h.1M272.5,160.7h.1M273.3,157.3h.1M273.4,145.6h.1M274.1,144.3h.1M276.8,144.4h.1M277.2,142.3h.1M277.5,136.4h.1M277.8,142.2h.1M277.8,141.8h.1M277.8,165.4h.1M277.9,130h.1M278,140.1h.1M280,142.3h.1M280.1,133h.1M280.5,141.6h.1M281,140.1h.1M281.2,151.9h.1M281.3,140.5h.1M281.6,135.3h.1M282.2,139.8h.1M282.9,138.7h.1M283.4,136h.1M283.6,139.2h.1M283.6,132.5h.1M284.5,127.3h.1M285.5,134.5h.1M286.5,135.4h.1M286.6,138.8h.1M287.5,137.2h.1M288.3,131.8h.1M289.6,130.7h.1M289.6,136.8h.1M290.6,135.4h.1M291.2,132.5h.1M291.5,137.3h.1M291.8,134.3h.1M292.3,139.4h.1M293.4,136.2h.1M293.9,137.7h.1M293.9,137.7h.1M296.6,128.2h.1M296.9,132.9h.1M297.8,131.4h.1M299.2,128.3h.1M299.3,133.1h.1M300.8,126.4h.1" stroke="#ff3333" stroke-width="0.75" stroke-linecap="square" fill="none" opacity="0.7"/>
<path d="M216.1,217.2h.1M216.2,189.4h.1M216.3,227.4h.1M216.4,227.8h.1M216.4,214.3h.1M216.5,181.1h.1M216.5,209.6h.1M216.5,187.3h.1M216.8,214.4h.1M217,215.4h.1M217,188.3h.1M217,189.6h.1M217,189.2h.1M217.1,183.1h.1M217.3,222h.1M217.3,212.9h.1M217.5,208h.1M217.6,210.7h.1M217.6,213.1h.1M217.6,207.8h.1M217.8,210.7h.1M217.9,224h.1M217.9,219.7h.1M218,211.9h.1M218,207.8h.1M218,207.5h.1M218.1,188.6h.1M218.4,186h.1M218.6,208.4h.1M218.6,184h.1M218.6,213.9h.1M218.7,209.1h.1M218.7,208.9h.1M218.8,213.1h.1M219,184.9h.1M219.1,219.1h.1M219.4,207.1h.1M219.5,181.1h.1M219.5,210.3h.1M219.7,185.7h.1M219.7,207.1h.1M219.7,188.1h.1M219.8,186.2h.1M219.9,221.1h.1M220,187.9h.1M220.1,171.5h.1M220.5,210.6h.1M220.6,212.2h.1M220.6,208.2h.1M220.7,207.2h.1M220.7,210.4h.1M221.1,210.9h.1M221.3,207.9h.1M222,211h.1M222.1,208.6h.1M223,205.6h.1M223.1,204.3h.1M223.2,182h.1M223.3,207.5h.1M224.4,224.6h.1M224.5,203.5h.1M224.6,180.9h.1M224.8,178.5h.1M225.2,184.8h.1M225.2,202.9h.1M225.2,205.2h.1M226,207.1h.1M226.2,219h.1M226.8,207h.1M227,179.4h.1M227.1,180.5h.1M227.5,227.7h.1M227.8,206.3h.1M227.8,202.1h.1M228.3,203.1h.1M228.7,177.9h.1M229,199.9h.1M229.2,220h.1M229.2,204.3h.1M229.4,199.8h.1M229.9,201.8h.1M229.9,176.7h.1M230,203.5h.1M230.4,178.1h.1M230.6,180.8h.1M230.8,206.7h.1M230.9,206.3h.1M231.5,198.1h.1M231.9,199h.1M231.9,168.8h.1M232,201.6h.1M232.1,201.4h.1M232.2,180.2h.1M232.3,203h.1M232.6,201.8h.1M232.7,213.2h.1M232.8,198.9h.1M233.2,200.2h.1M233.6,174.3h.1M233.6,173.8h.1M233.8,175.4h.1M233.9,174.9h.1M234.7,174.4h.1M235,195.9h.1M235.3,195.9h.1M235.7,195.6h.1M235.8,174.2h.1M236.6,153.3h.1M236.7,195h.1M237.7,195.4h.1M237.7,169.2h.1M238,193.9h.1M238.4,202.8h.1M238.7,169h.1M238.8,193.5h.1M239.2,176.1h.1M239.4,172.8h.1M239.7,202.3h.1M239.8,142h.1M240.1,197.9h.1M240.1,201h.1M241.2,143.5h.1M241.3,173.5h.1M242.2,195.7h.1M242.2,199.8h.1M242.2,193.8h.1M242.6,169.7h.1M242.9,193.2h.1M243.2,193.9h.1M243.9,192.1h.1M244.4,192.3h.1M244.4,194h.1M244.6,194.1h.1M245,191.3h.1M245.2,191.4h.1M245.5,196.8h.1M245.8,191.9h.1M246.1,193.2h.1M246.6,195.7h.1M246.9,192.3h.1M247.3,190.3h.1M248.1,203.4h.1M248.1,208.6h.1M248.5,195.5h.1M248.7,198.6h.1M248.8,188.4h.1M249.2,165.8h.1M249.5,190.5h.1M250,197.6h.1M250.3,187.8h.1M250.5,189.7h.1M251,191.3h.1M251.5,186.7h.1M251.6,186.5h.1M251.7,195.1h.1M251.7,186.8h.1M251.9,160.2h.1M252,191h.1M252.2,194.4h.1M252.3,203.3h.1M252.4,200.6h.1M252.7,162.6h.1M253.1,198.4h.1M253.4,190.1h.1M253.9,189.9h.1M253.9,186.3h.1M254.1,196.5h.1M254.3,167.9h.1M254.6,184.6h.1M254.7,186.5h.1M254.7,185.4h.1M254.8,189.9h.1M255,188.5h.1M255.3,164.8h.1M255.4,166.9h.1M255.8,184.1h.1M256,205h.1M256.5,165.1h.1M256.5,203.5h.1M256.9,184.2h.1M257,155h.1M257.3,185.4h.1M257.4,184.8h.1M257.8,185.4h.1M257.9,157.6h.1M258.3,189.5h.1M258.3,181.7h.1M258.6,163.7h.1M259.3,180.5h.1M259.4,183.7h.1M259.4,185.7h.1M259.5,180.5h.1M259.5,181.6h.1M259.6,189.5h.1M260,181.7h.1M260.2,193.5h.1M260.2,181.1h.1M260.6,162.7h.1M260.8,154.2h.1M261,160.4h.1M261.4,161.6h.1M261.8,186.5h.1M261.8,178.8h.1M262.1,158.6h.1M262.3,162.2h.1M262.3,187.6h.1M263.5,177.5h.1M263.6,161.4h.1M263.7,185.5h.1M264,177.4h.1M264,179.1h.1M264.2,181.4h.1M264.6,160.9h.1M264.7,189.9h.1M264.7,177.7h.1M264.8,176.4h.1M264.9,181.7h.1M265.3,176.7h.1M265.5,176.4h.1M265.8,182.8h.1M265.9,182.7h.1M266.2,176.5h.1M266.9,175.9h.1M267.1,177.1h.1M268.4,184h.1M269.3,174.7h.1M269.3,157.9h.1M269.4,202.3h.1M269.5,157.4h.1M269.5,174.9h.1M269.7,190h.1M269.8,157.4h.1M270.5,154.7h.1M270.9,172.2h.1M271.2,171h.1M271.6,176.5h.1M271.7,156h.1M271.9,170.5h.1M272.1,155h.1M272.3,141.4h.1M272.9,141.2h.1M273,180.1h.1M273,168.7h.1M273.2,168.2h.1M273.5,167.4h.1M273.6,176.4h.1M273.9,169.4h.1M274.2,169.5h.1M274.3,147.8h.1M274.6,150.2h.1M274.6,168.9h.1M275.1,166.3h.1M275.3,173.8h.1M276.3,151.2h.1M276.9,151.2h.1M277.2,176h.1M277.4,163h.1M278.3,136.9h.1M278.4,162.5h.1M278.7,163.2h.1M278.7,147.5h.1M278.9,164.8h.1M278.9,166.6h.1M279.1,164.5h.1M279.9,149.6h.1M279.9,160.5h.1M280.1,149.5h.1M280.1,146.6h.1M280.3,165h.1M280.5,146.5h.1M280.6,149.5h.1M280.6,166.4h.1M282,157.4h.1M282.3,145.3h.1M282.5,157.1h.1M282.6,160.2h.1M282.8,157.9h.1M283.7,145h.1M283.8,140.7h.1M284,144h.1M284.2,167.6h.1M284.5,158.3h.1M284.7,157.9h.1M285.5,152.8h.1M286.4,151.5h.1M286.8,157.6h.1M287.8,149.8h.1M287.8,146.9h.1M287.9,149.9h.1M288,150.5h.1M288.7,147.4h.1M289.1,145.9h.1M289.1,149.5h.1M289.1,144.6h.1M290.1,146.5h.1M290.2,147.1h.1M292.4,142.3h.1M293.3,143.8h.1M294,137.9h.1M295.1,138.2h.1" stroke="#00ccff" stroke-width="0.75" stroke-linecap="square" fill="none" opacity="0.7"/>
<path d="M218.1,208.8h.1M219,215.7h.1M219.3,211.1h.1M219.3,209.8h.1M220.9,222.5h.1M222.6,211.8h.1M222.6,211.9h.1M223,208.6h.1M223.1,204h.1M224.1,204.8h.1M225,206.1h.1M225.1,202.7h.1M226.5,211h.1M226.6,202.3h.1M228.1,216.9h.1M229.8,201.2h.1M230.6,230.1h.1M231.3,198.7h.1M231.9,206.9h.1M232.2,197.6h.1M234.2,198.7h.1M236.3,204.6h.1M237.4,194.1h.1M238.5,195.3h.1M239,195.7h.1M239.8,196.3h.1M240.1,196.9h.1M241.4,194.6h.1M242.2,198.1h.1M242.3,202.7h.1M242.8,197h.1M243.4,193.3h.1M243.8,193.2h.1M244.4,194.2h.1M248.7,189.4h.1M249.1,204h.1M249.7,196.2h.1M249.7,192.6h.1M251.3,192.2h.1M252.4,189.3h.1M253.1,194.7h.1M256,184.9h.1M256.2,183.3h.1M257.7,184h.1M259.7,195.2h.1M259.7,183.8h.1M260.5,184.4h.1M261,186.1h.1M262.2,179.8h.1M265.5,181.5h.1M267.2,174.5h.1M267.6,177.9h.1M267.9,179.5h.1M269.2,178.2h.1M269.4,183.3h.1M269.6,174.5h.1M269.9,178.7h.1M270.7,171.7h.1M275.3,169h.1M275.6,172.2h.1M279.8,167.2h.1M280.4,184.4h.1M283.4,159.8h.1M287,157.2h.1M287.3,164.7h.1M287.4,152h.1M287.5,162h.1M287.9,145.7h.1M288.5,144.5h.1M288.9,147.2h.1" stroke="#ff3333" stroke-width="0.75" stroke-linecap="square" fill="none" opacity="0.7"/>
<rect x="191" y="115.4" width="124" height="124.6" fill="none" stroke="#58595b" stroke-width="0.9"/>
<path d="M191.6,240v4.6M227.5,240v4.6M263.4,240v4.6M299.5,240v4.6M191,125.6h-5M191,150.5h-5M191,175.5h-5M191,200.4h-5M191,225.4h-5" stroke="#58595b" stroke-width="0.9" fill="none"/>
<text x="197" y="128.8" font-size="12.4" textLength="63.3" lengthAdjust="spacingAndGlyphs">TRAM2-EL1</text>
<text x="260.3" y="132.4" font-size="8.6" textLength="10.6" lengthAdjust="spacingAndGlyphs">ext</text>
<filter id="f5" x="-30%" y="-30%" width="160%" height="160%" color-interpolation-filters="sRGB"><feGaussianBlur in="SourceAlpha" stdDeviation="1.9" result="b"/><feTurbulence type="fractalNoise" baseFrequency="0.87" numOctaves="2" seed="3" result="n"/><feColorMatrix in="n" type="matrix" values="0 0 0 0 0 0 0 0 0 0 0 0 0 0 0 0 0 0 1 0" result="na"/><feComposite in="b" in2="na" operator="arithmetic" k1="0" k2="1" k3="1.35" k4="-0.675" result="m"/><feComponentTransfer in="m" result="t"><feFuncA type="linear" slope="3" intercept="-1"/></feComponentTransfer><feComponentTransfer in="b" result="g"><feFuncA type="linear" slope="14"/></feComponentTransfer><feComposite in="t" in2="g" operator="in" result="t2"/><feFlood flood-color="#ff3333"/><feComposite in2="t2" operator="in"/></filter>
<clipPath id="c2"><rect x="421.8" y="115.9" width="98.3" height="123.6"/></clipPath>
<g clip-path="url(#c2)"><polygon points="413.8,180.2 421.8,175.4 430,170.5 440,165.1 450,160.2 460,156.5 469,153.2 476,151 482.2,149.7 486,150.3 491,148.3 491,153.2 484,159.2 478.4,162 469,166.7 460,171.2 450,177 440,184.2 431,191 426,194.5 421.8,196 413.8,198.9" filter="url(#f5)"/></g>
<filter id="f6" x="-30%" y="-30%" width="160%" height="160%" color-interpolation-filters="sRGB"><feGaussianBlur in="SourceAlpha" stdDeviation="2.2" result="b"/><feTurbulence type="fractalNoise" baseFrequency="0.87" numOctaves="2" seed="8" result="n"/><feColorMatrix in="n" type="matrix" values="0 0 0 0 0 0 0 0 0 0 0 0 0 0 0 0 0 0 1 0" result="na"/><feComposite in="b" in2="na" operator="arithmetic" k1="0" k2="1" k3="1.35" k4="-0.675" result="m"/><feComponentTransfer in="m" result="t"><feFuncA type="linear" slope="3" intercept="-1"/></feComponentTransfer><feComponentTransfer in="b" result="g"><feFuncA type="linear" slope="14"/></feComponentTransfer><feComposite in="t" in2="g" operator="in" result="t2"/><feFlood flood-color="#00ccff"/><feComposite in2="t2" operator="in"/></filter>
<g clip-path="url(#c2)"><polygon points="413.8,181 421.8,176.5 430,171.9 440,166.9 450,162.4 460,159.1 469,156.2 476,154.3 482.2,153.2 485,152.9 488,153.4 488,159.1 484,161.1 478.4,163.9 469,168.6 460,173.1 450,178.9 440,186.1 431,192.9 426,196.4 421.8,197.9 413.8,200.7" filter="url(#f6)"/></g>
<path d="M422.2,174.3h.1M422.2,174h.1M422.3,174h.1M422.5,171.3h.1M422.7,174.1h.1M423.1,173.1h.1M423.2,197.7h.1M423.7,173h.1M423.9,170.7h.1M424,201.3h.1M424.6,207.7h.1M424.7,172.3h.1M425,215.6h.1M425.2,172.2h.1M425.4,172.1h.1M425.8,196.9h.1M426.3,169.6h.1M426.9,196.4h.1M427.2,169.6h.1M427.7,170.1h.1M428.8,170.4h.1M430.1,169h.1M430.4,168.5h.1M430.4,192.6h.1M432.1,168.3h.1M432.2,168.1h.1M432.5,151.2h.1M433.9,164.4h.1M434.7,203.2h.1M435,191.7h.1M435.6,166.1h.1M435.8,166.3h.1M435.8,160.4h.1M436.6,165.6h.1M436.7,158.9h.1M437.4,162.7h.1M437.6,161.2h.1M438.5,159h.1M438.8,161.6h.1M439.3,160.1h.1M439.8,164.4h.1M440,163.8h.1M440.4,184.7h.1M441.9,183.9h.1M442.2,163h.1M442.7,162.5h.1M442.8,162.4h.1M443.4,161.9h.1M443.5,161.6h.1M444.2,162h.1M444.6,183h.1M446.9,155.1h.1M448.1,158.2h.1M448.8,159.7h.1M448.9,159.8h.1M449,182.6h.1M450.1,184.2h.1M450.5,157.6h.1M451,156.3h.1M454.1,181.4h.1M454.2,154.3h.1M454.9,152.6h.1M456.7,152.7h.1M456.8,151.9h.1M456.8,152.9h.1M457,156.2h.1M457.1,151.6h.1M457.4,154h.1M458.1,155.8h.1M459.2,152.9h.1M459.8,151.5h.1M460,172h.1M461.3,154.8h.1M461.3,152.9h.1M462.4,151.8h.1M462.9,152.6h.1M463.6,171.5h.1M463.6,132.1h.1M463.6,181.5h.1M463.8,171h.1M463.9,152h.1M464.2,152.6h.1M464.3,150.9h.1M464.4,153.6h.1M464.6,153.2h.1M464.8,153.3h.1M465,152.1h.1M465.1,152.8h.1M465.3,152.5h.1M465.3,147.7h.1M465.5,153.3h.1M465.5,153.6h.1M465.6,148.1h.1M465.8,146.5h.1M466.5,147h.1M466.9,149.1h.1M467.2,152h.1M470,151.6h.1M470.3,149.6h.1M470.4,149.3h.1M470.7,171.6h.1M472.5,150.2h.1M473.9,150.8h.1M474.4,143.7h.1M474.6,150.1h.1M474.8,143.7h.1M475.3,141.1h.1M477.6,165.1h.1M477.7,147.4h.1M478.5,164.2h.1M478.5,149.1h.1M479.1,145.7h.1M479.4,147h.1M480.1,138.1h.1M481.8,148.2h.1M483.4,148.6h.1M483.6,147.5h.1M484.3,166.6h.1M484.6,147.5h.1M485.3,143h.1M486,159h.1M487.8,162h.1M488.4,143.4h.1M488.8,139.9h.1M489.1,148.2h.1M490.8,146.1h.1M493.8,152.5h.1M494.2,154.2h.1M494.8,148h.1M496.6,146.8h.1" stroke="#ff3333" stroke-width="0.75" stroke-linecap="square" fill="none" opacity="0.7"/>
<path d="M422,202.7h.1M422.2,208.8h.1M422.3,168.9h.1M422.5,202.5h.1M423.5,200.8h.1M424.2,198.3h.1M424.3,203.3h.1M425.1,199.6h.1M425.7,170.3h.1M426.3,207.8h.1M426.6,166.2h.1M426.7,198.3h.1M427.2,169.7h.1M427.8,172h.1M428.4,197.8h.1M428.9,200h.1M429.6,163.4h.1M430.4,195.6h.1M432.5,193.7h.1M433.3,211.3h.1M433.8,161.8h.1M435.1,192.9h.1M435.9,157.3h.1M436.6,195.2h.1M436.8,192.6h.1M437.4,193h.1M437.4,206.6h.1M437.7,167h.1M438.1,190.9h.1M438.6,188.3h.1M439.5,188.5h.1M440.4,191.2h.1M441.5,192h.1M442.9,185.7h.1M443.2,188.3h.1M443.2,185.6h.1M444.1,162.3h.1M444.2,188.3h.1M444.5,187.4h.1M445.8,185.1h.1M446.1,186h.1M446.3,184.1h.1M446.3,185.3h.1M447,185h.1M447.4,188.7h.1M448,183.5h.1M448.3,181.8h.1M448.6,153.9h.1M448.6,192.8h.1M449,182.5h.1M449.3,181.6h.1M449.3,189.9h.1M449.7,160.7h.1M450.2,182.8h.1M450.9,158.6h.1M452.3,179h.1M453.1,178.4h.1M453.3,178.8h.1M453.9,181.4h.1M454.4,181.3h.1M454.4,177.5h.1M455.6,185.7h.1M455.8,176.5h.1M456.4,183.2h.1M456.9,177.5h.1M457.4,177.7h.1M458.3,179.1h.1M458.5,176.8h.1M458.9,135.7h.1M459.9,157.1h.1M460.3,179.4h.1M461.1,175.6h.1M461.3,174.2h.1M461.7,174.3h.1M463.8,172.5h.1M464.4,173.3h.1M465.2,156.2h.1M465.2,191.7h.1M465.3,171.6h.1M465.4,173h.1M465.7,149.1h.1M465.9,175.5h.1M466.2,155.5h.1M466.5,172.8h.1M466.8,174.6h.1M467.6,155.3h.1M467.6,171.6h.1M467.7,172.7h.1M468,172.5h.1M468.3,171.2h.1M469.1,172.6h.1M469.4,171.1h.1M469.9,174.8h.1M470.8,147.4h.1M471.1,150.6h.1M471.9,168.4h.1M471.9,189.5h.1M473.2,169.5h.1M473.9,139.6h.1M474.1,133.5h.1M474.1,137.6h.1M474.5,169.6h.1M475.9,168.9h.1M476.4,166.2h.1M477.1,168.4h.1M478.1,167h.1M479.4,151.8h.1M480.4,152.3h.1M480.4,166.1h.1M480.5,166.1h.1M480.6,166.5h.1M481.9,167.1h.1M482.2,149.4h.1M483.1,166.1h.1M483.1,166h.1M483.5,165.8h.1M484.4,166.9h.1M484.9,162.3h.1M485.3,168.1h.1M485.4,162.4h.1M485.7,169.5h.1M485.8,185h.1M486,164.8h.1M487.6,129.1h.1M488.5,154.9h.1M489.1,155.3h.1M490.2,151.5h.1M490.5,156h.1M491.5,159.4h.1M494.6,154.7h.1" stroke="#00ccff" stroke-width="0.75" stroke-linecap="square" fill="none" opacity="0.7"/>
<rect x="396.6" y="115.4" width="124" height="124.8" fill="none" stroke="#58595b" stroke-width="0.9"/>
<path d="M397.2,240.2v4.6M433.1,240.2v4.6M469,240.2v4.6M505.1,240.2v4.6M396.6,126.2h-5M396.6,151.3h-5M396.6,176.2h-5M396.6,201.1h-5M396.6,226.2h-5" stroke="#58595b" stroke-width="0.9" fill="none"/>
<text x="386.7" y="129.8" font-size="10.3" text-anchor="end">5</text>
<text x="386.7" y="154.9" font-size="10.3" text-anchor="end">4</text>
<text x="386.7" y="179.8" font-size="10.3" text-anchor="end">3</text>
<text x="386.7" y="204.7" font-size="10.3" text-anchor="end">2</text>
<text x="386.7" y="229.8" font-size="10.3" text-anchor="end">1</text>
<text x="403" y="130.8" font-size="12.4" textLength="38.3" lengthAdjust="spacingAndGlyphs">AGTR2</text>
<clipPath id="c3"><rect x="570.8" y="115.9" width="98.3" height="123.6"/></clipPath>
<g clip-path="url(#c3)"><polygon points="562.8,177.1 570.8,173.8 580,170 590,166 599,162.4 609,158.6 618,155.2 625,153 631.2,151 637,148 642.6,143.5 642.6,143.5 631,154 618,164 599,175 570.8,189 562.8,193" filter="url(#f3)"/></g>
<filter id="f7" x="-30%" y="-30%" width="160%" height="160%" color-interpolation-filters="sRGB"><feGaussianBlur in="SourceAlpha" stdDeviation="2.4" result="b"/><feTurbulence type="fractalNoise" baseFrequency="0.87" numOctaves="2" seed="8" result="n"/><feColorMatrix in="n" type="matrix" values="0 0 0 0 0 0 0 0 0 0 0 0 0 0 0 0 0 0 1 0" result="na"/><feComposite in="b" in2="na" operator="arithmetic" k1="0" k2="1" k3="1.35" k4="-0.675" result="m"/><feComponentTransfer in="m" result="t"><feFuncA type="linear" slope="3" intercept="-1"/></feComponentTransfer><feComponentTransfer in="b" result="g"><feFuncA type="linear" slope="14"/></feComponentTransfer><feComposite in="t" in2="g" operator="in" result="t2"/><feFlood flood-color="#00ccff"/><feComposite in2="t2" operator="in"/></filter>
<g clip-path="url(#c3)"><polygon points="562.8,193.8 570.8,189.6 580,184.8 590,179.6 599,174.7 609,168.6 618,163 627.4,157.3 632,154.8 636,153 636,155 630,159.8 625.5,164.7 618,173.2 609,181.2 599,189.4 589.4,196 580,201 570.8,205 562.8,208.5" filter="url(#f7)"/></g>
<path d="M571.1,172.5h.1M571.4,164.2h.1M571.4,190.5h.1M571.6,168.2h.1M571.7,169.8h.1M572.3,170h.1M572.5,167.3h.1M573.3,148.6h.1M573.4,189.5h.1M573.7,171.6h.1M573.7,156.4h.1M574.1,170.6h.1M574.6,169.8h.1M575.4,160.9h.1M576.2,188.5h.1M576.3,193.6h.1M577.1,188h.1M577.3,169.4h.1M578.3,188h.1M578.6,165.6h.1M579.2,186.7h.1M579.4,169.1h.1M579.4,167.8h.1M579.4,168.2h.1M579.5,168.8h.1M579.6,168.4h.1M580.1,193.9h.1M580.2,190.1h.1M580.2,164.9h.1M580.2,166.4h.1M580.4,165.6h.1M580.5,163.7h.1M580.8,166.6h.1M581,164.5h.1M581.5,166.8h.1M581.6,167.5h.1M581.9,167.7h.1M582.1,165.1h.1M582.4,184.4h.1M582.4,161.5h.1M583.1,157.9h.1M584.5,161.9h.1M585,165.3h.1M586.2,183.1h.1M586.8,159h.1M587,165.9h.1M587.6,185.5h.1M588.4,162.2h.1M588.8,156.4h.1M588.9,165.2h.1M588.9,165h.1M590.1,160.7h.1M593.6,163h.1M593.6,163.1h.1M593.9,182.1h.1M594.2,160.5h.1M594.3,156.9h.1M594.8,160.5h.1M595.2,187.5h.1M596.8,155h.1M597.2,182.4h.1M597.4,161.5h.1M600.4,159h.1M600.6,160h.1M601.7,159.6h.1M602.6,158.6h.1M603.4,158.9h.1M604.9,157.6h.1M606,158.6h.1M606,158.7h.1M606.4,156.6h.1M607,156.7h.1M607.4,177.4h.1M608.1,150.9h.1M608.4,150.9h.1M608.6,152.8h.1M609,157.3h.1M609.5,157.2h.1M609.5,156.9h.1M610.2,155.8h.1M610.6,156.4h.1M611.3,149.8h.1M615.8,154h.1M615.8,154.5h.1M616,144.5h.1M616.5,152.6h.1M616.6,152.7h.1M616.6,177.3h.1M617,151.9h.1M618.1,150.9h.1M618.1,168.8h.1M618.7,153.1h.1M619.1,144.7h.1M620,164h.1M620.2,147.4h.1M620.8,153h.1M621.8,148.6h.1M622.3,151.3h.1M622.4,152.7h.1M623.6,152.3h.1M625.5,150.8h.1M626,165.7h.1M626.9,148.6h.1M627,149.3h.1M627.1,144.4h.1M628.1,150h.1M628.8,138.7h.1M629.8,147.1h.1M630.9,158h.1M631.2,145.3h.1M632.7,137.7h.1M632.7,136.3h.1M632.8,155h.1M633.2,142.2h.1M634,148.5h.1M635.8,141.6h.1M636.1,136.6h.1M636.7,138.2h.1M638.7,153.3h.1M640.9,143.7h.1M641.3,139.5h.1M641.6,139h.1M641.9,138.2h.1M643.6,140.1h.1M646.7,137h.1M647.6,140.8h.1M647.8,141.4h.1M650.3,136h.1M650.9,137.4h.1M651.8,134h.1" stroke="#ff3333" stroke-width="0.75" stroke-linecap="square" fill="none" opacity="0.7"/>
<path d="M570.9,209.5h.1M571,180.2h.1M571.2,206.8h.1M571.4,169.3h.1M571.5,209.3h.1M571.6,210h.1M571.6,225.9h.1M571.9,206.7h.1M571.9,179.7h.1M572,207h.1M572,207.7h.1M572.1,215.7h.1M572.4,184.5h.1M572.5,209h.1M572.5,208.7h.1M573,205.7h.1M573.1,212h.1M573.1,181.1h.1M573.2,206.6h.1M573.8,213.4h.1M574.3,205.2h.1M574.5,219.1h.1M574.5,213.4h.1M574.9,208.1h.1M575.2,209.8h.1M575.3,209.4h.1M575.4,207.6h.1M575.6,185.8h.1M575.7,204.2h.1M575.8,204.6h.1M575.8,213.4h.1M576.1,204.4h.1M576.3,207.6h.1M576.7,203.9h.1M576.8,209h.1M577,181.1h.1M577.8,204.8h.1M578,202.9h.1M578.2,203h.1M578.2,203.5h.1M578.3,205.3h.1M578.3,205.6h.1M578.6,178.7h.1M580,206.8h.1M580.1,206.5h.1M580.1,182.5h.1M580.3,202.6h.1M580.3,203.3h.1M580.4,202.4h.1M580.5,202.9h.1M580.6,202.5h.1M580.6,174.1h.1M581.1,208.3h.1M581.2,209.7h.1M581.2,204.3h.1M581.3,203.4h.1M581.3,202.7h.1M581.5,176.6h.1M581.5,205h.1M581.6,170.5h.1M582.1,210.9h.1M582.2,202h.1M582.3,203.8h.1M582.8,175.6h.1M582.9,205.7h.1M583.2,178.3h.1M583.5,207.7h.1M584.2,181.6h.1M584.2,199.8h.1M584.3,200.6h.1M584.4,202.4h.1M584.6,175.5h.1M584.9,179.1h.1M585,200.3h.1M585.1,180h.1M585.6,178.4h.1M585.6,168.1h.1M585.7,178.3h.1M585.8,199.2h.1M585.8,209.3h.1M585.9,200.1h.1M586.2,199.8h.1M586.2,199.2h.1M586.3,209.6h.1M586.4,218.2h.1M586.4,199.7h.1M586.5,202.9h.1M586.8,200.6h.1M586.8,179.4h.1M586.9,180h.1M587.2,200.5h.1M587.3,199.3h.1M587.7,178.6h.1M588.2,198.2h.1M588.2,164.8h.1M588.2,199.1h.1M588.4,202.8h.1M588.4,204.4h.1M589,178h.1M589.1,165.9h.1M590,176.2h.1M590.2,173.8h.1M590.3,198.6h.1M590.8,198.6h.1M590.8,204.5h.1M591.7,167.8h.1M591.8,176.5h.1M591.9,195.6h.1M592,202.7h.1M592.2,202.5h.1M592.4,204.2h.1M592.4,197.6h.1M592.6,197.9h.1M592.7,198.1h.1M592.9,210.9h.1M593,175h.1M593.5,200.2h.1M593.5,170.1h.1M593.8,194.6h.1M594.7,212.4h.1M595,193.9h.1M595.6,202.5h.1M595.8,175.1h.1M595.8,193.3h.1M596.2,195.8h.1M596.3,173.5h.1M596.4,192.4h.1M597.1,193.9h.1M597.1,192.1h.1M597.4,192.5h.1M597.8,214.7h.1M598,191.9h.1M599.8,190.5h.1M600.1,163.2h.1M600.2,194.6h.1M600.2,191.7h.1M602.1,170.9h.1M602.5,189.3h.1M602.9,201.8h.1M603.6,186.7h.1M604.1,189.4h.1M604.1,155.7h.1M604.4,189.6h.1M605.1,161.2h.1M605.2,185.5h.1M606.2,167.9h.1M606.3,189.4h.1M606.3,186.3h.1M606.4,185.4h.1M606.7,140.3h.1M606.7,192.9h.1M607.3,184.7h.1M607.4,188.8h.1M608.9,155h.1M609,151.1h.1M609,183.9h.1M609.1,201.8h.1M609.3,190.3h.1M609.7,166.1h.1M609.9,155.1h.1M610.1,186.2h.1M610.3,183.9h.1M610.3,193.3h.1M610.3,184.3h.1M610.4,148.3h.1M610.4,186.5h.1M610.4,181.9h.1M610.5,187.5h.1M610.6,184.3h.1M611.1,183.9h.1M611.2,180.4h.1M611.2,189.6h.1M611.4,164.1h.1M613.4,179.5h.1M613.5,158.8h.1M613.8,180.1h.1M614.1,156.1h.1M614.1,178.2h.1M614.9,179h.1M614.9,177.6h.1M615,180.7h.1M615.3,181h.1M615.4,149.4h.1M615.5,163h.1M615.5,143.5h.1M615.8,176.9h.1M615.9,178.9h.1M616.2,156.3h.1M616.3,176.9h.1M616.5,159.5h.1M617,157.5h.1M617.3,175.5h.1M617.6,179.9h.1M618,174.8h.1M618.2,160.1h.1M618.4,183.1h.1M618.5,180h.1M618.5,195.5h.1M619.3,177.6h.1M619.8,155.9h.1M620.1,179.7h.1M620.7,155.6h.1M621,155.5h.1M621.2,173.9h.1M621.9,181.7h.1M622.1,180.3h.1M622.4,172.6h.1M622.8,172.8h.1M622.8,153.2h.1M623.8,169.2h.1M624,149.6h.1M624,168.6h.1M624.2,170h.1M625.1,168.1h.1M625.2,167.7h.1M625.3,157.6h.1M625.4,175.8h.1M625.9,165.9h.1M626,165.2h.1M626,154.1h.1M626.1,167.8h.1M626.7,168.2h.1M626.7,150.1h.1M627.2,164.6h.1M627.6,166h.1M627.8,169.4h.1M628.2,176.7h.1M628.4,169.7h.1M628.5,167.5h.1M628.9,155.1h.1M629.9,167.2h.1M630.3,161h.1M630.5,153.1h.1M630.9,153.4h.1M631,162.7h.1M631,160.7h.1M631.3,162.8h.1M632,161.8h.1M632.5,162.6h.1M632.8,149.9h.1M633,152.8h.1M633,164.3h.1M633.3,163.5h.1M634.5,151.2h.1M635.3,160.2h.1M635.4,159.9h.1M635.7,157h.1M635.8,157.9h.1M636.1,154h.1M636.8,151.6h.1M637.7,153.2h.1M638.1,151.3h.1M639.4,155.5h.1M639.5,149.7h.1M640.3,148.5h.1M640.9,149.4h.1M641.7,152.2h.1M644.5,147h.1M645.2,149h.1M645.2,148.1h.1" stroke="#00ccff" stroke-width="0.75" stroke-linecap="square" fill="none" opacity="0.7"/>
<rect x="545.6" y="115.4" width="124" height="124.8" fill="none" stroke="#58595b" stroke-width="0.9"/>
<path d="M546.2,240.2v4.6M582.1,240.2v4.6M618,240.2v4.6M654.1,240.2v4.6M545.6,126.2h-5M545.6,151.3h-5M545.6,176.2h-5M545.6,201.1h-5M545.6,226.2h-5" stroke="#58595b" stroke-width="0.9" fill="none"/>
<text x="551" y="130.9" font-size="12.4" textLength="9" lengthAdjust="spacingAndGlyphs">N</text>
<text x="560" y="134.5" font-size="8.6" textLength="11.6" lengthAdjust="spacingAndGlyphs">ext</text>
<text x="571.6" y="130.9" font-size="12.4" textLength="45.9" lengthAdjust="spacingAndGlyphs">-AGTR2</text>
<filter id="f8" x="-30%" y="-30%" width="160%" height="160%" color-interpolation-filters="sRGB"><feGaussianBlur in="SourceAlpha" stdDeviation="2.6" result="b"/><feTurbulence type="fractalNoise" baseFrequency="0.87" numOctaves="2" seed="3" result="n"/><feColorMatrix in="n" type="matrix" values="0 0 0 0 0 0 0 0 0 0 0 0 0 0 0 0 0 0 1 0" result="na"/><feComposite in="b" in2="na" operator="arithmetic" k1="0" k2="1" k3="1.35" k4="-0.675" result="m"/><feComponentTransfer in="m" result="t"><feFuncA type="linear" slope="3" intercept="-1"/></feComponentTransfer><feComponentTransfer in="b" result="g"><feFuncA type="linear" slope="14"/></feComponentTransfer><feComposite in="t" in2="g" operator="in" result="t2"/><feFlood flood-color="#ff3333"/><feComposite in2="t2" operator="in"/></filter>
<clipPath id="c4"><rect x="44.7" y="367.7" width="120.9" height="122.8"/></clipPath>
<g clip-path="url(#c4)"><polygon points="36.7,444.7 44.7,441.4 52,438.4 59,435.6 68,431.9 78,427.3 88,421.9 97,416.4 106.4,411.2 110,409.4 112.5,408.6 112.5,412.4 110,415.1 106.4,418.8 97,426.6 88,433.9 78,441.8 68,448.9 59,456 50,462.4 44.7,464.4 36.7,467.4" filter="url(#f8)"/></g>
<filter id="f9" x="-30%" y="-30%" width="160%" height="160%" color-interpolation-filters="sRGB"><feGaussianBlur in="SourceAlpha" stdDeviation="2.0" result="b"/><feTurbulence type="fractalNoise" baseFrequency="0.87" numOctaves="2" seed="8" result="n"/><feColorMatrix in="n" type="matrix" values="0 0 0 0 0 0 0 0 0 0 0 0 0 0 0 0 0 0 1 0" result="na"/><feComposite in="b" in2="na" operator="arithmetic" k1="0" k2="1" k3="1.35" k4="-0.675" result="m"/><feComponentTransfer in="m" result="t"><feFuncA type="linear" slope="3" intercept="-1"/></feComponentTransfer><feComponentTransfer in="b" result="g"><feFuncA type="linear" slope="14"/></feComponentTransfer><feComposite in="t" in2="g" operator="in" result="t2"/><feFlood flood-color="#00ccff"/><feComposite in2="t2" operator="in"/></filter>
<g clip-path="url(#c4)"><polygon points="36.7,444.7 44.7,441.4 52,438.4 59,435.6 68,431.9 78,427.3 88,421.9 97,416.4 106.4,411.2 110,409.4 112.5,408.6 112.5,411.5 110,414.2 106.4,417.9 97,425.7 88,433 78,440.9 68,448 59,455.1 50,461.5 44.7,463.5 36.7,466.5" filter="url(#f9)"/></g>
<filter id="f10" x="-30%" y="-30%" width="160%" height="160%" color-interpolation-filters="sRGB"><feGaussianBlur in="SourceAlpha" stdDeviation="1.6" result="b"/><feTurbulence type="fractalNoise" baseFrequency="0.87" numOctaves="2" seed="5" result="n"/><feColorMatrix in="n" type="matrix" values="0 0 0 0 0 0 0 0 0 0 0 0 0 0 0 0 0 0 1 0" result="na"/><feComposite in="b" in2="na" operator="arithmetic" k1="0" k2="0.36" k3="1.5" k4="-0.75" result="m"/><feComponentTransfer in="m" result="t"><feFuncA type="linear" slope="3" intercept="-1"/></feComponentTransfer><feComponentTransfer in="b" result="g"><feFuncA type="linear" slope="14"/></feComponentTransfer><feComposite in="t" in2="g" operator="in" result="t2"/><feFlood flood-color="#b0809a"/><feComposite in2="t2" operator="in"/></filter>
<g clip-path="url(#c4)"><polygon points="36.7,446.1 44.7,442.8 52,439.8 59,437 68,433.3 78,428.7 88,423.3 97,417.8 106.4,412.6 110,410.8 112.5,410 112.5,410.1 110,412.8 106.4,416.5 97,424.3 88,431.6 78,439.5 68,446.6 59,453.7 50,460.1 44.7,462.1 36.7,465.1" filter="url(#f10)"/></g>
<path d="M44.7,428.7h.1M44.8,433.6h.1M44.9,464.8h.1M45,466.1h.1M45,465.9h.1M45,465.6h.1M45.1,464.3h.1M45.5,469.4h.1M45.5,438.3h.1M45.6,464.2h.1M45.7,467.8h.1M45.7,480h.1M45.9,440h.1M45.9,480.5h.1M45.9,470.9h.1M46,439.4h.1M46.1,465.4h.1M46.2,432.7h.1M46.2,468h.1M46.2,468.7h.1M46.5,439.7h.1M46.5,471.7h.1M46.5,439.7h.1M46.6,469.9h.1M46.7,467.2h.1M46.8,468.1h.1M46.8,464.1h.1M46.8,480.9h.1M46.8,437.9h.1M46.9,435.3h.1M47,438.9h.1M47.1,464.2h.1M47.2,439.3h.1M47.5,464.3h.1M47.6,468.2h.1M47.9,463.6h.1M47.9,437.3h.1M48,464.9h.1M48.3,469.6h.1M48.3,463.4h.1M48.8,464.9h.1M49.2,435.8h.1M49.3,472.7h.1M49.3,469.9h.1M49.3,468.9h.1M49.3,475.9h.1M49.7,433.7h.1M49.8,435.9h.1M50.2,434.9h.1M50.3,462.1h.1M50.6,462.6h.1M50.7,468h.1M50.8,423.2h.1M51,436.3h.1M51.5,430.7h.1M51.5,476.5h.1M51.7,461.7h.1M51.8,434h.1M51.9,480.4h.1M52.4,432.8h.1M52.8,465.5h.1M53.4,436.3h.1M53.6,464.8h.1M53.7,436.7h.1M54.2,432.6h.1M54.4,434.6h.1M54.5,435.5h.1M54.7,435.6h.1M54.9,461.2h.1M55.2,459.3h.1M55.3,463.2h.1M55.7,458.4h.1M56,429.3h.1M56.2,463.7h.1M56.4,458.9h.1M56.4,434.8h.1M56.5,466.2h.1M56.6,460.9h.1M56.7,431.7h.1M57.2,465.5h.1M57.2,459.5h.1M57.3,434.9h.1M57.5,465.8h.1M57.6,460h.1M57.7,423.6h.1M58,467h.1M58.3,462.1h.1M58.5,461.8h.1M58.6,456.3h.1M58.9,428.6h.1M59.2,458.5h.1M59.5,457.7h.1M59.6,456.3h.1M59.7,455.7h.1M59.8,429.2h.1M59.9,468.8h.1M60.9,460.2h.1M61,432.2h.1M61.1,454.8h.1M61.5,420.2h.1M61.6,463.1h.1M61.7,456.1h.1M62,431.9h.1M62.5,460.3h.1M62.6,432.5h.1M62.8,456.4h.1M63,457.7h.1M63,455.2h.1M63.1,470.7h.1M63.3,457.5h.1M63.6,427h.1M63.6,457.6h.1M64,452.5h.1M64,452.7h.1M64.2,457.9h.1M64.4,430.4h.1M64.5,453.4h.1M64.6,457.4h.1M64.7,469.3h.1M64.8,456.8h.1M64.9,452.6h.1M65,454.6h.1M65.2,432h.1M65.4,427.4h.1M65.4,430.1h.1M65.4,429.7h.1M65.7,451.7h.1M65.8,452.6h.1M66.1,452.6h.1M66.2,450.7h.1M66.5,459.7h.1M66.6,451.2h.1M66.6,450.5h.1M66.6,460.5h.1M67.1,454.4h.1M67.4,473.8h.1M67.9,451.8h.1M68,460.9h.1M68.7,430.4h.1M69.8,450.2h.1M70.2,452h.1M70.4,427.2h.1M70.7,446.9h.1M70.9,452h.1M71,448.4h.1M71,449.9h.1M71.1,450.8h.1M71.4,427.6h.1M71.5,428.1h.1M71.5,448.4h.1M71.7,452.3h.1M71.8,447.6h.1M72,450.6h.1M72.3,427.1h.1M72.6,461.2h.1M72.8,448.1h.1M72.9,425.6h.1M73.2,452.8h.1M73.3,449.6h.1M73.4,428.1h.1M73.4,428.2h.1M73.5,428.5h.1M73.5,447.7h.1M73.8,450.5h.1M73.8,428.1h.1M73.8,445.7h.1M74.1,426h.1M74.2,418.8h.1M74.3,453.6h.1M74.3,424.8h.1M74.5,425.7h.1M74.6,423.5h.1M74.6,445.1h.1M74.7,447.5h.1M74.7,444.6h.1M75.3,457.2h.1M75.5,380.5h.1M75.8,422.6h.1M75.8,424h.1M76.1,465.9h.1M76.2,422.7h.1M76.9,444.5h.1M77.2,425.7h.1M77.5,424.6h.1M77.5,454.8h.1M77.6,417.2h.1M77.9,423.7h.1M78.3,415.6h.1M78.4,442.3h.1M78.5,449.5h.1M78.5,425.6h.1M78.7,441.6h.1M78.7,424.6h.1M78.8,404.5h.1M78.8,402.5h.1M79.3,443.8h.1M79.3,443.1h.1M79.5,418.9h.1M79.6,440.6h.1M79.8,440.4h.1M80,442.1h.1M80.3,442.4h.1M80.3,444.5h.1M81.2,420.9h.1M81.2,441h.1M81.6,416.4h.1M82,421.2h.1M82.9,448.4h.1M83.1,420.1h.1M83.6,414.7h.1M84.6,437.8h.1M84.8,419.8h.1M85.3,441.7h.1M85.4,411.4h.1M85.5,437.2h.1M85.5,448.9h.1M85.8,418.3h.1M86.1,420.9h.1M86.2,421h.1M86.2,443.9h.1M87,440.5h.1M87,401.7h.1M87.1,421.3h.1M87.4,415.6h.1M87.6,420.2h.1M87.7,419.6h.1M88,400.5h.1M89.1,436.1h.1M89.2,435.8h.1M89.2,418.3h.1M89.4,442.1h.1M89.6,416.6h.1M89.8,434h.1M90.2,418.6h.1M90.6,437.5h.1M90.7,433.9h.1M91.1,417.8h.1M91.1,413.5h.1M91.6,418.1h.1M91.7,432.5h.1M91.9,435.8h.1M92.2,410.1h.1M92.9,430.4h.1M93,430h.1M93.4,434h.1M94.2,430.9h.1M94.3,435.5h.1M94.4,430.8h.1M94.7,430h.1M95.2,416.6h.1M95.3,415.5h.1M95.4,427.8h.1M95.4,431.4h.1M96.2,402.8h.1M96.2,401.2h.1M96.8,431.4h.1M97.4,413.9h.1M97.6,387.7h.1M97.8,429.5h.1M98.1,411.9h.1M98.7,426.9h.1M99.2,427.8h.1M99.7,405.9h.1M99.7,424.9h.1M99.8,413.1h.1M100,409h.1M100.2,412.6h.1M100.4,413.7h.1M100.5,424.6h.1M100.6,413h.1M101.2,426.9h.1M101.6,400.1h.1M101.8,410.2h.1M101.9,425.3h.1M101.9,428.6h.1M102.2,411.1h.1M102.4,408h.1M102.4,422.4h.1M102.7,450.1h.1M103.1,411.9h.1M103.2,425.2h.1M103.4,427h.1M103.6,421.9h.1M103.6,425.2h.1M103.7,421.9h.1M103.8,420.9h.1M103.9,429.6h.1M104.3,405.6h.1M104.9,402.5h.1M105.3,394.1h.1M105.5,402.5h.1M105.5,422.7h.1M106.1,420.6h.1M106.2,399.4h.1M106.5,419.1h.1M107.3,425h.1M107.7,417.6h.1M108,422h.1M108,407.3h.1M108,405.6h.1M108.3,432.6h.1M108.4,420h.1M109.5,416.7h.1M109.7,415.7h.1M109.9,415.4h.1M109.9,416.8h.1M110.5,403.2h.1M111,402.1h.1M111.4,425.2h.1M111.9,407.6h.1M112,407.8h.1M112.2,437.7h.1M112.3,420.3h.1M113.7,412.3h.1M114.6,407.2h.1M114.7,404h.1M115,407.4h.1M115.3,406.2h.1M115.5,405.7h.1M115.5,409.4h.1M117.3,407.8h.1M117.8,406.4h.1M117.9,404.8h.1M118,404.9h.1M118.6,407.1h.1M119,400.6h.1M121.6,404.7h.1M121.7,400.2h.1M121.8,405.3h.1M122.4,403.3h.1" stroke="#ff3333" stroke-width="0.75" stroke-linecap="square" fill="none" opacity="0.7"/>
<path d="M44.9,435.9h.1M45.1,466.6h.1M45.2,437.8h.1M45.6,464.6h.1M45.6,467.1h.1M45.7,431.7h.1M45.9,427.3h.1M45.9,463.9h.1M46,438h.1M46.2,469h.1M46.3,475.1h.1M46.4,438.2h.1M46.6,467.8h.1M46.8,423.2h.1M46.9,468.9h.1M47,439.5h.1M47,435.5h.1M47.4,471.4h.1M47.4,464.9h.1M47.6,438.1h.1M47.6,438.2h.1M47.6,436.9h.1M49.5,462.6h.1M49.6,466h.1M49.8,462.4h.1M49.8,462.9h.1M49.9,463h.1M50.4,434.3h.1M50.6,465.6h.1M51,464.1h.1M51.1,436.8h.1M51.3,436.8h.1M52.5,431.9h.1M53.2,434.1h.1M53.2,461.1h.1M53.3,434.3h.1M54,436.7h.1M54.1,436.7h.1M54.5,411.4h.1M54.6,459.4h.1M54.7,432.3h.1M54.8,433h.1M55.3,435.7h.1M55.6,423.4h.1M55.6,461.8h.1M55.7,460.5h.1M56.3,461.1h.1M56.5,429.9h.1M56.5,461.6h.1M56.9,435.4h.1M57.1,433.3h.1M57.2,426.8h.1M57.5,432.2h.1M57.9,434.4h.1M58.8,458.3h.1M59.1,434.6h.1M60.4,467.2h.1M60.5,427.1h.1M61.6,460.6h.1M62.4,455.7h.1M63.1,421.8h.1M64.3,424h.1M64.4,454.8h.1M64.5,430.3h.1M64.9,452.9h.1M65.3,452.7h.1M65.4,431.9h.1M66,431.7h.1M66,457.2h.1M67.1,426.6h.1M67.6,461.8h.1M68.6,430.3h.1M69.4,422.5h.1M69.6,428.7h.1M69.7,449.2h.1M70,424.3h.1M70.2,450.4h.1M70.3,428h.1M70.9,428.8h.1M71.7,426.2h.1M72.7,445.7h.1M72.8,421.1h.1M73,450.8h.1M73.4,412.1h.1M74,412.4h.1M74.3,447.3h.1M74.3,448.5h.1M74.7,427.2h.1M77.5,420.6h.1M77.8,426h.1M78.7,425.7h.1M78.8,424.2h.1M79.9,441.6h.1M81.9,422.3h.1M82.1,423h.1M82.1,445.8h.1M82.2,442.8h.1M83.1,441.9h.1M83.3,423.2h.1M83.9,437.3h.1M84.4,416.8h.1M84.7,416.1h.1M84.8,437.4h.1M85.4,420.1h.1M86.5,421.4h.1M89.1,419.9h.1M90.8,418.3h.1M91,432.2h.1M94.7,411.9h.1M94.8,412.1h.1M96.6,380.8h.1M98.4,414.2h.1M98.7,425.6h.1M99.4,397.8h.1M101.1,410.5h.1M101.4,399.8h.1M101.8,422.9h.1M104.7,411.1h.1M105.2,403.1h.1M105.7,409.1h.1M105.8,409.2h.1M105.9,425.5h.1M105.9,422.4h.1M106.2,399.4h.1M108.5,416.6h.1M109.4,407.3h.1M110.2,405.9h.1M111.1,402.7h.1M112.2,399.6h.1M112.2,416.1h.1M112.5,410.5h.1M115.7,405.3h.1M115.8,407.5h.1M116.4,409.5h.1M116.6,406.8h.1M116.9,410.7h.1M117.7,407.8h.1M118.5,409.5h.1M118.6,409.1h.1M119.1,405.4h.1" stroke="#00ccff" stroke-width="0.75" stroke-linecap="square" fill="none" opacity="0.7"/>
<rect x="41.7" y="367.2" width="124.2" height="123.8" fill="none" stroke="#58595b" stroke-width="0.9"/>
<path d="M45.1,491v4.6M80.1,491v4.6M115.2,491v4.6M150.4,491v4.6M41.7,377.6h-5M41.7,402.5h-5M41.7,427.5h-5M41.7,452.4h-5M41.7,477.4h-5" stroke="#58595b" stroke-width="0.9" fill="none"/>
<text x="31.8" y="381.2" font-size="10.3" text-anchor="end">5</text>
<text x="31.8" y="406.1" font-size="10.3" text-anchor="end">4</text>
<text x="31.8" y="431.1" font-size="10.3" text-anchor="end">3</text>
<text x="31.8" y="456" font-size="10.3" text-anchor="end">2</text>
<text x="31.8" y="481" font-size="10.3" text-anchor="end">1</text>
<text x="45.1" y="509.2" font-size="10.3" text-anchor="middle">2</text>
<text x="80.1" y="509.2" font-size="10.3" text-anchor="middle">3</text>
<text x="115.2" y="509.2" font-size="10.3" text-anchor="middle">4</text>
<text x="150.4" y="509.2" font-size="10.3" text-anchor="middle">5</text>
<text x="48.9" y="383" font-size="12.4" textLength="33.7" lengthAdjust="spacingAndGlyphs">ANO6</text>
<filter id="f11" x="-30%" y="-30%" width="160%" height="160%" color-interpolation-filters="sRGB"><feGaussianBlur in="SourceAlpha" stdDeviation="2.7" result="b"/><feTurbulence type="fractalNoise" baseFrequency="0.87" numOctaves="2" seed="3" result="n"/><feColorMatrix in="n" type="matrix" values="0 0 0 0 0 0 0 0 0 0 0 0 0 0 0 0 0 0 1 0" result="na"/><feComposite in="b" in2="na" operator="arithmetic" k1="0" k2="1.0" k3="1.5" k4="-0.75" result="m"/><feComponentTransfer in="m" result="t"><feFuncA type="linear" slope="3" intercept="-1"/></feComponentTransfer><feComponentTransfer in="b" result="g"><feFuncA type="linear" slope="14"/></feComponentTransfer><feComposite in="t" in2="g" operator="in" result="t2"/><feFlood flood-color="#ff3333"/><feComposite in2="t2" operator="in"/></filter>
<clipPath id="c5"><rect x="193.3" y="367.7" width="121.2" height="122.8"/></clipPath>
<g clip-path="url(#c5)"><polygon points="185.3,449.1 193.3,446.1 200,443.6 207,441.3 216,437.6 226,433.7 235,428.6 245,421.6 245,427.4 231,439.9 216.5,447.9 193.3,455.9 185.3,458.6" filter="url(#f11)"/></g>
<filter id="f12" x="-30%" y="-30%" width="160%" height="160%" color-interpolation-filters="sRGB"><feGaussianBlur in="SourceAlpha" stdDeviation="3.3" result="b"/><feTurbulence type="fractalNoise" baseFrequency="0.87" numOctaves="2" seed="8" result="n"/><feColorMatrix in="n" type="matrix" values="0 0 0 0 0 0 0 0 0 0 0 0 0 0 0 0 0 0 1 0" result="na"/><feComposite in="b" in2="na" operator="arithmetic" k1="0" k2="0.94" k3="1.55" k4="-0.775" result="m"/><feComponentTransfer in="m" result="t"><feFuncA type="linear" slope="3" intercept="-1"/></feComponentTransfer><feComponentTransfer in="b" result="g"><feFuncA type="linear" slope="14"/></feComponentTransfer><feComposite in="t" in2="g" operator="in" result="t2"/><feFlood flood-color="#00ccff"/><feComposite in2="t2" operator="in"/></filter>
<g clip-path="url(#c5)"><polygon points="185.3,458.8 193.3,456.4 205,452.9 216.5,448.9 231.6,441.4 243,432.4 243,438.6 235.4,450.6 226,461.6 216,470.1 207,476.1 200,480.1 193.3,482.1 185.3,484.5" filter="url(#f12)"/></g>
<path d="M193.4,441.3h.1M193.6,443h.1M193.6,457h.1M193.7,444.6h.1M193.8,444.5h.1M193.9,442.8h.1M193.9,443.5h.1M194.4,440.6h.1M194.4,444h.1M194.6,434.7h.1M194.7,439.3h.1M195.2,457.5h.1M195.5,443.7h.1M195.7,440.4h.1M195.9,438.4h.1M196.3,440.3h.1M196.6,443h.1M196.6,441.5h.1M196.9,441.9h.1M197.2,436.3h.1M197.5,443.4h.1M197.7,442.6h.1M197.8,439.5h.1M198,442.5h.1M198,456.2h.1M198.2,442h.1M198.3,438h.1M198.4,442.4h.1M198.4,443.1h.1M198.6,442.9h.1M198.6,442.5h.1M198.7,442.3h.1M198.8,441.6h.1M199.2,439.5h.1M199.4,458.9h.1M199.5,440h.1M200,442.4h.1M200,460.5h.1M200.1,442.2h.1M200.2,437.3h.1M200.2,454.8h.1M200.7,439.1h.1M201.1,440.7h.1M201.7,460.4h.1M201.7,441.6h.1M202,436.1h.1M202,437h.1M202.1,461h.1M202.3,438.8h.1M202.6,441.3h.1M202.6,437h.1M203.1,437.4h.1M203.3,436.2h.1M203.4,458.3h.1M203.5,441.3h.1M203.5,431.7h.1M204.5,438.7h.1M204.8,439.5h.1M204.9,436.9h.1M205.2,438.4h.1M205.6,435.9h.1M206.1,434.2h.1M206.8,439.1h.1M206.9,440.2h.1M206.9,454.3h.1M207.4,438.2h.1M207.7,438h.1M208.2,464h.1M208.4,439.6h.1M208.4,436.8h.1M208.5,437.5h.1M208.6,432.5h.1M208.8,451.8h.1M208.8,439h.1M209.2,438.3h.1M209.3,435h.1M209.4,437.8h.1M209.6,436.1h.1M209.7,455h.1M209.8,431.5h.1M209.9,435.8h.1M210.4,420.3h.1M210.4,437.1h.1M210.4,435.9h.1M210.5,437.6h.1M210.6,438.4h.1M210.7,432.4h.1M210.9,437.2h.1M211,428.8h.1M211.3,434.2h.1M211.5,451.9h.1M211.7,437.4h.1M211.7,435.9h.1M212.1,431.9h.1M212.4,436.4h.1M212.5,436.9h.1M212.5,437.8h.1M212.6,437.3h.1M213,436.6h.1M213.5,436.1h.1M213.8,436.7h.1M213.9,436.3h.1M214.2,423.4h.1M214.3,435h.1M214.9,449.7h.1M215.2,433.8h.1M215.5,429.1h.1M215.8,470.6h.1M215.9,434.8h.1M216,435.7h.1M216.2,435.4h.1M216.4,435.8h.1M216.6,436.1h.1M217,449.9h.1M217.3,448.6h.1M217.4,450.6h.1M217.5,433.2h.1M217.5,435.4h.1M217.5,433h.1M217.5,431.3h.1M217.7,431.6h.1M217.9,448.9h.1M218.2,431.9h.1M218.4,449.9h.1M218.5,434h.1M218.5,410.1h.1M218.6,434.7h.1M218.7,434.6h.1M218.9,435.4h.1M219.1,433.4h.1M219.1,433.8h.1M219.4,435.1h.1M220.1,423.7h.1M220.1,413h.1M220.5,434.3h.1M220.5,434.5h.1M220.7,427.8h.1M221,431h.1M222.2,434h.1M222.3,428.6h.1M222.8,432.9h.1M223.6,433.1h.1M223.8,446.7h.1M224.6,447.8h.1M224.6,431.3h.1M224.8,431.6h.1M225.7,432.3h.1M225.9,429.8h.1M226,431.8h.1M226.2,411.5h.1M226.4,449.4h.1M227,431.7h.1M227.1,425.6h.1M227.4,430.1h.1M227.4,431.3h.1M227.6,427.6h.1M227.7,443.1h.1M227.8,423.8h.1M227.9,427.5h.1M228.2,443.1h.1M228.7,427.8h.1M229.2,442.2h.1M229.5,427.8h.1M229.6,448.2h.1M229.8,418.4h.1M229.9,428.9h.1M230.1,428.4h.1M230.2,441.5h.1M230.3,454.5h.1M230.9,418.7h.1M230.9,425.4h.1M231.9,428.2h.1M232.8,427.7h.1M233.1,440.8h.1M233.2,416.3h.1M233.3,425.6h.1M233.6,423.6h.1M233.7,424.8h.1M234,413.4h.1M234,439.4h.1M234.4,441h.1M234.6,442.4h.1M234.8,419.9h.1M235.2,404h.1M235.6,419.6h.1M235.6,422.2h.1M235.9,421.5h.1M237.6,437.6h.1M237.6,422.9h.1M238.1,435.1h.1M238.2,419.3h.1M238.5,440.3h.1M238.5,424.9h.1M238.5,421.1h.1M239,435.5h.1M239.3,419.4h.1M239.4,423.1h.1M240.1,410.4h.1M240.4,439.4h.1M240.7,432.7h.1M241.1,421.8h.1M241.2,442.5h.1M241.7,434.6h.1M242.1,415.2h.1M242.1,420.3h.1M242.4,417.9h.1M242.6,418.7h.1M243.3,417.4h.1M244,420.3h.1M244.5,430.3h.1M244.6,420.3h.1M244.7,416.6h.1M245.4,429.3h.1M246,422.9h.1M246,421.1h.1M246.4,425.8h.1M246.5,431.7h.1M247.1,422.1h.1M247.7,419h.1M248.4,420.3h.1M248.6,424.7h.1M249,417.8h.1M249.9,421.8h.1M251.3,414.4h.1M256.1,408.7h.1M259,416.3h.1M260,400.1h.1M260.6,406.4h.1M263.1,408.8h.1M264.8,409.9h.1" stroke="#ff3333" stroke-width="0.75" stroke-linecap="square" fill="none" opacity="0.7"/>
<path d="M193.4,450.4h.1M193.4,487.7h.1M193.6,488.1h.1M193.6,489.1h.1M193.6,486.6h.1M193.6,485.2h.1M193.7,484.4h.1M193.7,488.8h.1M193.7,483.6h.1M193.8,486.7h.1M193.8,488h.1M193.9,486.7h.1M194,484.4h.1M194.1,484.3h.1M194.1,485.9h.1M194.2,489.2h.1M194.2,488.7h.1M194.2,489.5h.1M194.3,489.2h.1M194.3,447h.1M194.4,484.8h.1M194.5,486.4h.1M194.5,488h.1M194.6,487h.1M194.7,484.1h.1M194.7,489h.1M194.7,488.8h.1M194.7,454.3h.1M194.9,487.8h.1M194.9,483.9h.1M195,486.7h.1M195.1,453.8h.1M195.2,483h.1M195.3,448.1h.1M195.4,485h.1M195.5,484h.1M195.9,483.6h.1M196.1,483.3h.1M196.4,482.9h.1M196.4,483.1h.1M196.4,482.7h.1M197.1,485.3h.1M197.1,485.6h.1M197.3,482.6h.1M197.4,482.5h.1M197.4,487.1h.1M197.6,486h.1M197.7,487.8h.1M197.7,483.7h.1M197.8,483h.1M197.8,485h.1M197.9,484.5h.1M198.2,487.3h.1M198.2,484.9h.1M198.3,486.1h.1M198.8,446.2h.1M198.9,483.6h.1M199,485.9h.1M199.1,483.1h.1M199.4,481.8h.1M199.4,483.9h.1M199.4,484.9h.1M199.5,481.9h.1M199.6,482.4h.1M199.9,451.5h.1M199.9,490h.1M200,486.9h.1M200,488.1h.1M200.1,481.7h.1M200.1,485.7h.1M200.3,484.8h.1M200.4,483.1h.1M200.4,482.5h.1M200.4,483.7h.1M200.4,484.9h.1M200.6,483.2h.1M200.8,483h.1M201,484h.1M201.3,482.3h.1M201.5,485.2h.1M201.6,484.1h.1M201.6,483.3h.1M202,480.6h.1M202,483.2h.1M202,480.8h.1M202.1,481.9h.1M202.2,451h.1M202.2,482h.1M202.3,482h.1M202.5,483.1h.1M202.6,486h.1M203,450.8h.1M203.1,485h.1M203.3,452h.1M203.8,486h.1M204.1,481.2h.1M204.6,480.4h.1M204.8,481.8h.1M205,483.1h.1M205.1,480.8h.1M205.3,479.4h.1M205.4,479.6h.1M206,479.4h.1M206.2,478.3h.1M206.3,482.8h.1M206.4,478.9h.1M206.6,481.9h.1M207,481.8h.1M207.2,488.7h.1M207.2,486.2h.1M207.4,479.5h.1M207.4,482h.1M207.4,477.2h.1M207.6,448.8h.1M207.7,480.3h.1M207.8,485.1h.1M208,441.1h.1M208,482.4h.1M208.1,485h.1M208.1,448.7h.1M208.2,477.1h.1M208.5,479.6h.1M208.5,479.9h.1M208.6,478.9h.1M208.7,483.9h.1M209.2,447.2h.1M209.3,485h.1M209.4,477.1h.1M209.5,476.1h.1M209.5,445.6h.1M209.6,434.8h.1M209.6,485.7h.1M209.8,480.8h.1M209.9,479h.1M210,484.3h.1M210,483.3h.1M210.3,477.1h.1M210.7,478.6h.1M210.8,476.7h.1M210.9,482.6h.1M210.9,475.2h.1M210.9,479.8h.1M211,477.3h.1M211.2,479.9h.1M211.3,475.7h.1M211.4,475.2h.1M211.9,474.8h.1M212.1,476.6h.1M212.1,475.2h.1M212.2,480h.1M212.2,476.4h.1M212.2,475.8h.1M212.3,442.3h.1M212.4,490.2h.1M212.6,474.8h.1M212.6,477.1h.1M212.7,480.3h.1M212.9,481.2h.1M213,480h.1M213.1,482.2h.1M213.2,475.3h.1M213.3,446.2h.1M213.3,481.2h.1M213.6,473.3h.1M213.9,479.7h.1M213.9,477.4h.1M214,448.3h.1M214.1,473.5h.1M214.4,472.7h.1M214.7,472.4h.1M214.8,484.3h.1M214.8,477.9h.1M214.8,473.1h.1M214.9,480.5h.1M214.9,473.9h.1M215.4,477.9h.1M215.6,472.7h.1M215.7,471.9h.1M215.7,447.3h.1M215.8,447.1h.1M216,474.4h.1M216,472.7h.1M216,474.5h.1M216.7,487.4h.1M216.7,471.4h.1M216.9,473.2h.1M217,471.7h.1M217,472.2h.1M217.2,471.8h.1M217.3,470.9h.1M217.6,473.8h.1M217.6,475h.1M217.7,481.6h.1M217.8,478.1h.1M217.9,475.9h.1M218,483.5h.1M218.1,474.5h.1M218.3,440h.1M218.4,477.5h.1M218.5,475.3h.1M218.6,473.4h.1M218.6,471.4h.1M218.7,473.6h.1M218.9,469.5h.1M219.1,468.9h.1M219.4,429.5h.1M219.5,472h.1M219.7,472.1h.1M219.9,477h.1M219.9,469.7h.1M220,475h.1M220,468.1h.1M220.4,468.4h.1M221,469.3h.1M221.1,471.8h.1M221.6,467.8h.1M221.7,470.2h.1M221.7,467.3h.1M221.8,471.1h.1M221.8,469.8h.1M222.2,467.7h.1M222.4,469.8h.1M222.6,472.7h.1M222.8,471.3h.1M223,469.3h.1M223.1,474.4h.1M223.2,443.1h.1M223.3,467.5h.1M223.3,466.3h.1M223.4,468.7h.1M223.7,469.7h.1M223.7,465h.1M223.7,473.1h.1M223.8,480.1h.1M223.9,443.3h.1M223.9,466.8h.1M224.2,467.5h.1M224.3,475.2h.1M224.3,469.2h.1M224.5,468.3h.1M224.8,465.5h.1M225.1,472.5h.1M225.3,464.5h.1M225.4,469.1h.1M225.4,471.4h.1M225.4,466.5h.1M225.6,470.6h.1M225.8,469.2h.1M226.7,464.2h.1M226.7,462.5h.1M226.8,465.5h.1M226.8,423.7h.1M227,464.1h.1M227.3,461.6h.1M227.5,465.6h.1M228,465.9h.1M228.4,463h.1M228.5,470.9h.1M228.8,461.3h.1M228.8,439.9h.1M228.8,462.6h.1M228.9,468.1h.1M229,463.1h.1M229.1,460.6h.1M229.2,437.3h.1M229.3,460h.1M229.5,463.8h.1M229.6,472.4h.1M229.6,461.8h.1M229.9,459.3h.1M229.9,474.7h.1M230,458.5h.1M230.1,440.6h.1M230.2,470.3h.1M230.2,460.7h.1M230.2,472.4h.1M230.7,461.4h.1M230.7,462.5h.1M230.7,439.7h.1M230.8,457.8h.1M230.9,434.6h.1M231.6,438.7h.1M231.7,438.3h.1M231.7,456.6h.1M231.8,467.9h.1M231.9,476.4h.1M231.9,465.6h.1M232.1,438.7h.1M232.1,456h.1M232.2,462.2h.1M232.3,458.6h.1M232.4,459.3h.1M232.4,461h.1M232.7,461.1h.1M232.7,458.7h.1M232.8,460h.1M233.1,464.2h.1M233.1,468.3h.1M233.2,458h.1M233.4,458.8h.1M233.7,455h.1M233.7,456.4h.1M233.9,455.2h.1M234,461.1h.1M234.1,456.1h.1M234.1,469.2h.1M234.4,457.4h.1M234.5,455.3h.1M234.7,457.7h.1M234.9,429.5h.1M235.1,459.1h.1M235.1,453.3h.1M235.2,459.4h.1M235.2,466h.1M235.4,436.4h.1M235.5,455.7h.1M235.7,453.6h.1M235.7,434.1h.1M235.9,453.4h.1M235.9,452.5h.1M236.2,453.2h.1M236.3,435.7h.1M236.4,455h.1M236.6,415.4h.1M236.6,453.1h.1M236.7,450.1h.1M236.9,458.1h.1M237,454.7h.1M237.3,450.1h.1M237.5,451.5h.1M237.6,454.5h.1M237.7,449.9h.1M237.7,449.2h.1M238,449.7h.1M238,452.4h.1M238.2,448.5h.1M238.3,455.1h.1M238.5,429.9h.1M238.6,453.7h.1M238.7,426.6h.1M238.7,448.9h.1M238.8,479.8h.1M238.8,461.6h.1M238.9,452.6h.1M239,446.5h.1M239.1,447.6h.1M239.4,445.8h.1M239.4,447.7h.1M239.5,433.8h.1M239.6,447.4h.1M239.7,453.8h.1M239.9,454.9h.1M239.9,471.8h.1M240,449.6h.1M240.6,429.9h.1M240.7,445.3h.1M240.7,445.4h.1M240.8,448.7h.1M240.8,449.9h.1M240.8,445.9h.1M241.2,444.8h.1M241.9,451.8h.1M241.9,443.1h.1M242,446.2h.1M242.2,445.2h.1M242.4,441.9h.1M242.6,441.8h.1M242.8,449.7h.1M242.9,442.5h.1M243.4,435h.1M243.7,436.5h.1M243.7,433.3h.1M243.8,428h.1M243.8,438.5h.1M244.1,436.7h.1M244.3,438.7h.1M244.6,429.7h.1M245.1,436.4h.1M245.2,434.1h.1M245.2,432.6h.1M245.2,435.7h.1M245.6,427h.1M245.7,433.8h.1M245.9,435.3h.1M245.9,432h.1M246.5,436.2h.1M246.6,429.1h.1M246.8,425.8h.1M246.8,430.1h.1M246.9,419.3h.1M247.5,431.7h.1M247.7,430.4h.1M247.7,433.2h.1M248.1,431.6h.1M248.2,425.9h.1M248.2,434h.1M248.7,427.3h.1M248.9,430.6h.1M249.1,436.4h.1M249.5,421.3h.1M249.7,425.9h.1M250,434.8h.1M250.1,422.1h.1M250.2,427.8h.1M250.6,422.5h.1M250.7,428.2h.1M250.9,415.8h.1M251.3,425.8h.1M251.8,418.4h.1M252.2,425.3h.1M253,424.9h.1M253.1,413.8h.1M253.7,427h.1M254.1,424.9h.1M255,431.8h.1M255.7,423.1h.1M256.9,417.4h.1M257.9,412.9h.1M259.3,419.9h.1M261,414.2h.1" stroke="#00ccff" stroke-width="0.75" stroke-linecap="square" fill="none" opacity="0.7"/>
<rect x="190.6" y="367.2" width="124.2" height="123.8" fill="none" stroke="#58595b" stroke-width="0.9"/>
<path d="M194,491v4.6M229,491v4.6M264.1,491v4.6M299.3,491v4.6M190.6,377.6h-5M190.6,402.5h-5M190.6,427.5h-5M190.6,452.4h-5M190.6,477.4h-5" stroke="#58595b" stroke-width="0.9" fill="none"/>
<text x="194" y="509.2" font-size="10.3" text-anchor="middle">2</text>
<text x="229" y="509.2" font-size="10.3" text-anchor="middle">3</text>
<text x="264.1" y="509.2" font-size="10.3" text-anchor="middle">4</text>
<text x="299.3" y="509.2" font-size="10.3" text-anchor="middle">5</text>
<text x="197.9" y="383" font-size="12.4" textLength="61.3" lengthAdjust="spacingAndGlyphs">ANO6-EL5</text>
<text x="259.2" y="386.6" font-size="8.6" textLength="11.7" lengthAdjust="spacingAndGlyphs">ext</text>
<filter id="f13" x="-30%" y="-30%" width="160%" height="160%" color-interpolation-filters="sRGB"><feGaussianBlur in="SourceAlpha" stdDeviation="2.1" result="b"/><feTurbulence type="fractalNoise" baseFrequency="0.87" numOctaves="2" seed="3" result="n"/><feColorMatrix in="n" type="matrix" values="0 0 0 0 0 0 0 0 0 0 0 0 0 0 0 0 0 0 1 0" result="na"/><feComposite in="b" in2="na" operator="arithmetic" k1="0" k2="1" k3="1.35" k4="-0.675" result="m"/><feComponentTransfer in="m" result="t"><feFuncA type="linear" slope="3" intercept="-1"/></feComponentTransfer><feComponentTransfer in="b" result="g"><feFuncA type="linear" slope="14"/></feComponentTransfer><feComposite in="t" in2="g" operator="in" result="t2"/><feFlood flood-color="#ff3333"/><feComposite in2="t2" operator="in"/></filter>
<clipPath id="c6"><rect x="421.5" y="367.7" width="98.6" height="122.8"/></clipPath>
<g clip-path="url(#c6)"><polygon points="413.5,434.8 421.5,430.1 430,425.1 440.4,420.9 450,417.9 459.4,415.4 467,413.7 472.7,412.7 477.5,413.4 477.5,417.6 474.6,419.6 459.4,426.6 440.4,437.1 421.5,451.1 413.5,457" filter="url(#f13)"/></g>
<filter id="f14" x="-30%" y="-30%" width="160%" height="160%" color-interpolation-filters="sRGB"><feGaussianBlur in="SourceAlpha" stdDeviation="3.0" result="b"/><feTurbulence type="fractalNoise" baseFrequency="0.87" numOctaves="2" seed="8" result="n"/><feColorMatrix in="n" type="matrix" values="0 0 0 0 0 0 0 0 0 0 0 0 0 0 0 0 0 0 1 0" result="na"/><feComposite in="b" in2="na" operator="arithmetic" k1="0" k2="0.93" k3="1.5" k4="-0.75" result="m"/><feComponentTransfer in="m" result="t"><feFuncA type="linear" slope="3" intercept="-1"/></feComponentTransfer><feComponentTransfer in="b" result="g"><feFuncA type="linear" slope="14"/></feComponentTransfer><feComposite in="t" in2="g" operator="in" result="t2"/><feFlood flood-color="#00ccff"/><feComposite in2="t2" operator="in"/></filter>
<g clip-path="url(#c6)"><polygon points="413.5,458.5 421.5,452.1 430,445.3 440.4,437.8 450,432.3 459.4,427.3 467,423.6 474.6,420.6 480,419.1 486,417.1 486,418.2 482.2,423.2 478,427.7 472.7,433.7 467,439.2 459.4,446.2 450,453.7 440.4,460.2 430,465.7 421.5,467.7 413.5,469.6" filter="url(#f14)"/></g>
<path d="M421.7,456.5h.1M421.7,421.7h.1M423.2,424h.1M423.4,413.5h.1M423.5,420.2h.1M423.7,412.9h.1M423.7,457.1h.1M423.7,455.1h.1M423.8,425.3h.1M424.3,425.4h.1M424.4,427h.1M425.8,422h.1M426.1,425.2h.1M426.3,421.6h.1M426.3,417h.1M426.4,421.7h.1M427,425.7h.1M427.3,423.8h.1M427.4,423.1h.1M428.4,425.1h.1M428.7,447.6h.1M428.8,421.6h.1M428.9,423.7h.1M429.1,423.5h.1M429.2,422.9h.1M429.2,422.7h.1M429.5,423.8h.1M429.6,424.2h.1M430.6,445.9h.1M430.8,423.6h.1M431,412.3h.1M431.6,421h.1M431.9,419.3h.1M431.9,422.8h.1M433.5,449.7h.1M433.6,416.8h.1M434,421.5h.1M434.6,419.3h.1M434.6,421.7h.1M434.8,421h.1M435.1,421.7h.1M436,421.8h.1M436.4,419.4h.1M436.6,413.5h.1M436.8,418.6h.1M437.2,442.5h.1M437.3,414.4h.1M437.6,421.1h.1M437.6,418.3h.1M437.7,415.1h.1M437.8,440.3h.1M437.8,420.3h.1M438.1,440.6h.1M440.2,419.6h.1M440.9,418.8h.1M443.7,418.5h.1M444.1,418.1h.1M444.5,418.6h.1M444.6,417.1h.1M446.7,415.5h.1M446.7,416.7h.1M446.8,417.9h.1M447.4,416.4h.1M448.7,433.7h.1M448.8,414.7h.1M449.7,416.7h.1M450.9,410.5h.1M451.2,416.4h.1M452,412h.1M452.4,415.2h.1M452.4,415.8h.1M452.7,415.6h.1M454.2,415.2h.1M454.4,415.3h.1M454.9,431.7h.1M456.5,413.8h.1M456.7,413.7h.1M456.9,433.4h.1M457.3,414.9h.1M457.9,410.6h.1M459.3,413.8h.1M459.8,410.9h.1M459.9,413.3h.1M460.1,406.5h.1M460.3,412.4h.1M461.5,408.3h.1M462.9,438h.1M463.9,407.3h.1M465.2,425.4h.1M465.4,409.8h.1M466.9,412.4h.1M467.5,405.5h.1M467.9,412.1h.1M468.5,408.5h.1M469.1,410.3h.1M469.7,412.3h.1M470.5,402.2h.1M470.6,411.4h.1M471.1,410h.1M473.1,406.8h.1M473.4,411.8h.1M474.3,411.3h.1M474.7,424h.1M475.2,410.8h.1M475.2,403.2h.1M475.7,422.7h.1M476.8,406.4h.1M477,411.8h.1M477.1,419h.1M477.2,411h.1M477.9,414.4h.1M478.5,413.8h.1M479.1,416.9h.1M479.2,415h.1M480.5,420.7h.1M481.2,415.9h.1M483.8,412.8h.1M485.3,411.5h.1M487.4,413.7h.1M488.1,414.8h.1" stroke="#ff3333" stroke-width="0.75" stroke-linecap="square" fill="none" opacity="0.7"/>
<path d="M421.5,472h.1M421.6,471.6h.1M421.7,477.4h.1M421.7,469.2h.1M421.7,471.6h.1M421.9,473.9h.1M422.1,473.5h.1M422.1,470.3h.1M422.3,472.5h.1M422.4,477.2h.1M422.4,474.9h.1M422.7,471.7h.1M422.8,469.3h.1M423,469.3h.1M423,476.2h.1M423,448.1h.1M423.1,473.8h.1M423.1,476.7h.1M423.2,480.6h.1M423.3,472.1h.1M423.4,473h.1M423.4,470.4h.1M423.4,475.1h.1M423.6,470h.1M423.7,473.1h.1M423.7,470.8h.1M423.8,473.4h.1M424,468.8h.1M424,434.1h.1M424.1,470.1h.1M424.6,469.9h.1M424.7,469.3h.1M424.8,472.1h.1M424.8,477.4h.1M424.8,446.4h.1M424.9,471h.1M425.1,469.3h.1M425.2,481.4h.1M425.4,479.6h.1M425.4,484.7h.1M425.4,477.3h.1M425.5,484.1h.1M425.6,473.8h.1M426,469.8h.1M426,471.5h.1M426,480.3h.1M426,475.4h.1M426.1,478.8h.1M426.1,478.8h.1M426.1,470.2h.1M426.3,478.1h.1M426.4,471.5h.1M426.5,476h.1M426.5,469h.1M426.5,468.4h.1M426.7,469.9h.1M427.2,446h.1M427.3,475.3h.1M427.3,476.5h.1M427.4,440.4h.1M427.6,468.4h.1M427.8,471.9h.1M427.8,440.4h.1M427.8,470.5h.1M428.1,471.9h.1M428.2,444.1h.1M428.2,486h.1M428.2,471.6h.1M428.2,471.3h.1M428.2,470.4h.1M428.3,470.1h.1M428.5,470.9h.1M428.5,479.3h.1M428.9,472h.1M429.1,439.3h.1M429.2,469.6h.1M429.4,437.9h.1M429.5,470.9h.1M429.6,475.2h.1M429.6,470.5h.1M429.6,468.5h.1M429.6,469h.1M429.6,469h.1M429.8,468.6h.1M430,467.1h.1M430.7,473.9h.1M430.9,467.8h.1M431,481.8h.1M431.1,466.7h.1M431.1,485.6h.1M431.1,466.6h.1M431.1,467.3h.1M431.4,472.6h.1M431.5,474.4h.1M431.8,471.4h.1M431.9,486.5h.1M432.1,472.3h.1M432.2,468.2h.1M432.3,469.5h.1M432.5,467.9h.1M432.6,469.9h.1M432.8,466.8h.1M432.9,430.9h.1M432.9,466.1h.1M433.3,465.4h.1M433.5,466.1h.1M433.5,470.9h.1M433.6,466.3h.1M433.9,468.8h.1M433.9,466.9h.1M434.2,470.8h.1M434.4,480.2h.1M434.7,437.4h.1M434.9,468.8h.1M435,479.8h.1M435.2,471.7h.1M435.2,438.6h.1M435.5,464.7h.1M435.5,465.4h.1M435.6,488.7h.1M435.8,466.3h.1M435.8,470.1h.1M435.8,478.4h.1M436.2,465.5h.1M436.3,466.9h.1M436.5,439.1h.1M436.6,465.9h.1M437,463.7h.1M437.3,466.3h.1M437.4,474.1h.1M437.4,473.9h.1M437.5,466.2h.1M437.5,465.5h.1M437.7,465.7h.1M437.7,470.7h.1M438.6,464.2h.1M438.9,463.9h.1M439,464.4h.1M439.1,478.7h.1M439.7,465.6h.1M440,462.5h.1M440.1,468h.1M440.3,436.1h.1M440.4,486.6h.1M440.7,463.4h.1M440.9,468.1h.1M441.1,464.8h.1M441.1,435.2h.1M441.1,461.8h.1M441.2,465.5h.1M441.2,462h.1M441.5,417h.1M441.8,433.2h.1M442.1,468.9h.1M442.4,463.1h.1M442.8,427.7h.1M442.8,470.7h.1M442.8,463.9h.1M443.1,465.4h.1M443.3,467.3h.1M443.5,459.9h.1M443.5,463.2h.1M443.6,464.6h.1M443.6,434h.1M443.8,462.3h.1M444.5,476.8h.1M444.5,466.1h.1M444.6,463.6h.1M445,466h.1M445.1,459.3h.1M445.7,472.9h.1M445.7,463.9h.1M445.9,424.4h.1M445.9,462.7h.1M446.1,464.4h.1M446.5,430.4h.1M446.6,457.6h.1M446.6,457.9h.1M446.7,469.7h.1M446.9,458.2h.1M447.3,459.2h.1M447.4,465.2h.1M447.4,466.3h.1M447.4,469.3h.1M447.4,464.8h.1M447.5,474.3h.1M447.5,457.8h.1M447.5,462.7h.1M447.5,431h.1M447.8,456.6h.1M447.8,459.1h.1M448.2,459.5h.1M448.4,466.1h.1M448.4,458.6h.1M448.6,428.1h.1M448.8,456.3h.1M449.3,423h.1M449.6,462.4h.1M449.6,484.6h.1M449.8,429.4h.1M449.8,468.3h.1M449.9,470.8h.1M449.9,462.2h.1M450.5,454.7h.1M450.6,459.7h.1M450.7,460h.1M450.8,459.1h.1M450.9,421.8h.1M451,455.8h.1M451.4,454.9h.1M451.6,456.8h.1M451.8,425.4h.1M451.9,460.3h.1M451.9,428.4h.1M452.4,476.5h.1M452.5,455.1h.1M452.8,453.7h.1M453,454.4h.1M453.1,459.9h.1M453.1,455.9h.1M453.3,468.2h.1M453.4,452.4h.1M454,453.6h.1M454.3,455.1h.1M454.3,425.9h.1M454.6,456h.1M454.6,469.6h.1M454.6,452h.1M455,461.9h.1M455.1,452.4h.1M455.4,451.8h.1M455.5,424.8h.1M455.9,458.1h.1M455.9,427.4h.1M456.1,451.7h.1M456.1,457.8h.1M456.2,470.8h.1M456.3,465.1h.1M456.4,423.8h.1M456.5,451.8h.1M456.5,451.5h.1M456.6,460.9h.1M457.2,471.9h.1M457.4,450.7h.1M457.5,422.5h.1M457.6,454.2h.1M457.8,449.8h.1M457.9,459.5h.1M458.3,424.9h.1M458.5,453.3h.1M458.5,451.5h.1M459,456.4h.1M459.3,449.6h.1M459.4,448.2h.1M460,447.9h.1M460.7,421.9h.1M460.7,452.8h.1M461.2,466.3h.1M461.4,449h.1M461.6,446.2h.1M462.1,450h.1M462.1,422.6h.1M462.3,466.3h.1M462.5,447.7h.1M463,459.5h.1M463.2,449.4h.1M463.5,409.6h.1M463.6,446.2h.1M463.7,450.1h.1M464.9,457.7h.1M465.3,457h.1M465.7,446.4h.1M466,443.8h.1M466,444.8h.1M466.1,443.2h.1M466.2,421h.1M466.3,448.2h.1M466.4,445.5h.1M466.5,414.1h.1M467.3,441.2h.1M467.7,443.1h.1M467.7,442.5h.1M468.2,442.5h.1M468.5,446h.1M468.6,444.5h.1M468.8,439h.1M468.9,441.1h.1M469.2,442.4h.1M470,420.2h.1M470.2,455.7h.1M470.7,438.7h.1M470.8,442.8h.1M471.1,459.2h.1M471.1,437.7h.1M471.1,437.4h.1M471.2,438.9h.1M471.3,438.4h.1M471.6,441.8h.1M471.7,441.1h.1M471.9,440.7h.1M472,393.4h.1M472.2,417.6h.1M472.3,436h.1M472.5,438.3h.1M472.8,410.9h.1M473.2,441.6h.1M473.5,434.9h.1M473.5,439.3h.1M473.6,437.3h.1M473.6,441.1h.1M473.8,452.7h.1M474.9,434.6h.1M474.9,445.9h.1M475,441.2h.1M475,433.9h.1M475.2,433.6h.1M475.3,465.8h.1M475.3,437.4h.1M475.6,445.1h.1M476.6,436.6h.1M476.8,439.4h.1M476.9,435h.1M477.1,439.9h.1M477.1,438.3h.1M477.2,441.1h.1M477.2,417h.1M477.3,437h.1M477.4,431.5h.1M477.5,437.8h.1M477.9,436h.1M478.2,431.9h.1M478.2,431.2h.1M478.6,431.8h.1M478.8,428.8h.1M479,417.9h.1M479.3,429.4h.1M480,430.8h.1M480.1,414.6h.1M480.2,428.3h.1M480.2,406.5h.1M480.2,428h.1M480.5,431.8h.1M480.5,428.1h.1M480.6,416.3h.1M480.9,428.1h.1M481,427.9h.1M481.1,438.4h.1M481.2,413.6h.1M481.2,426.4h.1M481.2,407.1h.1M481.5,432.2h.1M481.6,435.9h.1M482.5,424.3h.1M482.7,415.7h.1M482.7,424.3h.1M482.7,431.3h.1M482.8,416.5h.1M482.9,424.9h.1M483,425.5h.1M483.2,427.9h.1M483.3,424.4h.1M483.5,424.4h.1M483.7,422.9h.1M483.7,404.7h.1M484.2,423h.1M484.3,422.4h.1M484.7,427.3h.1M484.8,426.5h.1M484.8,413.5h.1M485.1,421.2h.1M485.2,421.7h.1M485.2,424.4h.1M485.3,420.6h.1M485.8,424h.1M485.9,423h.1M486.4,417.8h.1M486.5,419.7h.1M486.5,420.6h.1M486.6,419h.1M486.7,416.9h.1M486.7,416.6h.1M487.1,420h.1M487.6,414.5h.1M488,417.2h.1M488.3,414.1h.1M488.3,416.6h.1M488.4,417.5h.1M488.9,420.2h.1M489.2,409.3h.1M489.8,417.3h.1M490,409.8h.1M490.2,417.2h.1M490.6,413.5h.1M491,410.6h.1M491.4,412.5h.1M493.3,412.5h.1M493.6,409.6h.1M494.5,412.2h.1M496.7,412.8h.1M497.3,410.3h.1" stroke="#00ccff" stroke-width="0.75" stroke-linecap="square" fill="none" opacity="0.7"/>
<rect x="396.3" y="367.2" width="124.2" height="123.8" fill="none" stroke="#58595b" stroke-width="0.9"/>
<path d="M397,491v4.6M432.9,491v4.6M468.8,491v4.6M504.9,491v4.6M396.3,377.6h-5M396.3,402.5h-5M396.3,427.5h-5M396.3,452.4h-5M396.3,477.4h-5" stroke="#58595b" stroke-width="0.9" fill="none"/>
<text x="386.4" y="381.2" font-size="10.3" text-anchor="end">5</text>
<text x="386.4" y="406.1" font-size="10.3" text-anchor="end">4</text>
<text x="386.4" y="431.1" font-size="10.3" text-anchor="end">3</text>
<text x="386.4" y="456" font-size="10.3" text-anchor="end">2</text>
<text x="386.4" y="481" font-size="10.3" text-anchor="end">1</text>
<text x="397" y="509.2" font-size="10.3" text-anchor="middle">2</text>
<text x="432.9" y="509.2" font-size="10.3" text-anchor="middle">3</text>
<text x="468.8" y="509.2" font-size="10.3" text-anchor="middle">4</text>
<text x="504.9" y="509.2" font-size="10.3" text-anchor="middle">5</text>
<text x="402.3" y="382.3" font-size="12.4" textLength="36.7" lengthAdjust="spacingAndGlyphs">C3AR1</text>
<clipPath id="c7"><rect x="570.1" y="367.7" width="99" height="122.8"/></clipPath>
<g clip-path="url(#c7)"><polygon points="562.1,431.3 570.1,426.8 580,421.3 589.4,417 599,413.3 608.4,410.2 618,407.1 627.4,404.6 633,403.4 637,403 637,405.9 634,409.4 627.4,415.2 618,419.9 608.4,425.4 599,433.4 589.4,442.4 580,450.4 575,452.9 570.1,453.9 562.1,455.5" filter="url(#f0)"/></g>
<g clip-path="url(#c7)"><polygon points="562.1,431.4 570.1,426.9 580,421.4 589.4,417.1 599,413.4 608.4,410.3 618,407.2 627.4,404.7 633,403.5 637,403.1 637,405.1 634,408.6 627.4,414.4 618,419.1 608.4,424.6 599,432.6 589.4,441.6 580,449.6 575,452.1 570.1,453.1 562.1,454.7" filter="url(#f6)"/></g>
<filter id="f15" x="-30%" y="-30%" width="160%" height="160%" color-interpolation-filters="sRGB"><feGaussianBlur in="SourceAlpha" stdDeviation="1.6" result="b"/><feTurbulence type="fractalNoise" baseFrequency="0.87" numOctaves="2" seed="5" result="n"/><feColorMatrix in="n" type="matrix" values="0 0 0 0 0 0 0 0 0 0 0 0 0 0 0 0 0 0 1 0" result="na"/><feComposite in="b" in2="na" operator="arithmetic" k1="0" k2="0.4" k3="1.5" k4="-0.75" result="m"/><feComponentTransfer in="m" result="t"><feFuncA type="linear" slope="3" intercept="-1"/></feComponentTransfer><feComponentTransfer in="b" result="g"><feFuncA type="linear" slope="14"/></feComponentTransfer><feComposite in="t" in2="g" operator="in" result="t2"/><feFlood flood-color="#b0809a"/><feComposite in2="t2" operator="in"/></filter>
<g clip-path="url(#c7)"><polygon points="562.1,435.1 570.1,430.7 580,425.2 589.4,420.9 599,417.2 608.4,414.1 618,411 627.4,408.5 633,407.3 637,406.9 637,403.8 634,407.3 627.4,413.1 618,417.8 608.4,423.3 599,431.3 589.4,440.3 580,448.3 575,450.8 570.1,451.8 562.1,453.5" filter="url(#f15)"/></g>
<path d="M570.2,460.6h.1M570.3,456.7h.1M570.8,424.9h.1M570.9,424.6h.1M571.1,455.8h.1M571.7,457.1h.1M571.8,424.3h.1M571.8,456.3h.1M571.9,424.2h.1M572,455.1h.1M572.4,460.6h.1M573.3,422.5h.1M573.5,420.4h.1M573.6,455.4h.1M573.7,460.5h.1M573.8,457.9h.1M574.7,456.3h.1M575,455.8h.1M575.3,421.9h.1M575.4,456.2h.1M575.4,419.1h.1M575.5,420.9h.1M576.3,452.6h.1M576.5,460.9h.1M576.7,421.2h.1M577.2,454.9h.1M577.3,454.7h.1M577.8,456.3h.1M577.9,488.4h.1M578.2,453.4h.1M578.2,479.1h.1M578.3,457.4h.1M579.2,456.2h.1M579.2,451.2h.1M579.3,411.9h.1M579.4,457.8h.1M579.5,419.7h.1M579.6,420.2h.1M579.9,451.3h.1M581,449.9h.1M581,449.8h.1M581.4,453.6h.1M581.6,451h.1M582,449.8h.1M582.1,418.7h.1M582.3,448.9h.1M582.3,457.6h.1M582.4,456.3h.1M583.3,448.3h.1M583.5,415.7h.1M583.7,449.9h.1M585.4,449.7h.1M585.4,414.2h.1M585.6,416.9h.1M587,447h.1M587,446.8h.1M587.3,444.8h.1M587.5,414.8h.1M587.8,416.4h.1M588,416.8h.1M588,456.6h.1M588.5,445.9h.1M589.3,452.7h.1M589.5,447.4h.1M589.6,442.5h.1M590.1,441.9h.1M590.3,445.7h.1M590.5,408.5h.1M591.3,440.9h.1M592.7,452.3h.1M593,413.1h.1M594.4,447h.1M595,467.6h.1M595.2,402.5h.1M595.3,442.4h.1M595.4,408.4h.1M596.1,441.7h.1M596.9,403.3h.1M597.2,440.2h.1M597.5,403.7h.1M598.4,412.4h.1M598.5,435.7h.1M598.6,451.3h.1M598.7,440.1h.1M598.8,412.6h.1M599.4,433.5h.1M599.7,433.7h.1M599.7,434h.1M600.2,437.1h.1M600.6,434.7h.1M600.6,432.4h.1M601.4,404h.1M601.4,399h.1M601.6,433.6h.1M601.9,405.5h.1M602.5,410.1h.1M604.2,429.7h.1M604.2,406.7h.1M605.6,435.5h.1M605.6,430.3h.1M606.1,406h.1M606.9,430.4h.1M607.1,428.9h.1M607.6,427.2h.1M609,404.7h.1M609.4,427.5h.1M609.7,439.5h.1M610.5,428.2h.1M610.9,401.6h.1M611.6,424.9h.1M611.8,423.7h.1M611.8,423.8h.1M611.9,428.7h.1M612.1,435.5h.1M612.9,423.4h.1M613.2,424.5h.1M613.6,427.7h.1M615.3,400h.1M615.7,424.3h.1M616.2,406h.1M617.3,397.4h.1M617.6,425.2h.1M617.9,425.7h.1M617.9,432.2h.1M618.4,399.5h.1M618.8,422.2h.1M618.9,403h.1M619,396.7h.1M620.5,399.2h.1M620.8,405.1h.1M621.3,397.4h.1M622.8,401.1h.1M623,395.4h.1M623.1,399.5h.1M624.1,402.4h.1M624.2,393h.1M624.3,417.3h.1M624.6,404.5h.1M625.2,423.6h.1M625.6,400h.1M626.4,416.1h.1M626.9,416h.1M627,415.7h.1M627,419.9h.1M628.3,401.6h.1M628.4,421.3h.1M628.4,400.5h.1M629.2,416.7h.1M629.7,400.7h.1M629.8,401.5h.1M629.8,414.2h.1M630.1,416.9h.1M631.1,412.9h.1M631.9,412.9h.1M632.1,418.7h.1M632.3,397.1h.1M632.5,413.5h.1M633.4,411.7h.1M633.6,413.2h.1M633.9,412.4h.1M633.9,401.6h.1M634.3,415.9h.1M634.8,410.8h.1M636.5,409h.1M638,403.3h.1M638,401.4h.1M638.5,408.4h.1M639.8,403h.1M640.2,404.1h.1M645.8,397.4h.1" stroke="#ff3333" stroke-width="0.75" stroke-linecap="square" fill="none" opacity="0.7"/>
<path d="M570.2,457.5h.1M570.4,464h.1M570.5,455.7h.1M571.1,459.4h.1M571.2,453.8h.1M571.2,411.9h.1M571.3,458.7h.1M571.5,424.4h.1M572,422.3h.1M572.2,481.4h.1M572.3,418.7h.1M572.9,417.7h.1M573.5,460.9h.1M573.8,453.5h.1M573.9,457.1h.1M574,462.8h.1M574.5,453.2h.1M574.8,454.3h.1M574.9,423h.1M575.1,454.3h.1M575.1,459.6h.1M575.8,421.8h.1M576.1,419.7h.1M576.4,463.2h.1M576.4,421.7h.1M576.6,456.4h.1M576.9,456.8h.1M577,414.9h.1M577.2,416.6h.1M577.7,419h.1M578,454.1h.1M578.1,460.4h.1M578.2,411.3h.1M579.2,420.4h.1M579.7,451h.1M579.9,452.6h.1M580.2,419.8h.1M581.3,449.6h.1M581.8,453.9h.1M582,451.5h.1M584.7,417.8h.1M585,461.7h.1M585.5,417.2h.1M586,416.8h.1M586.4,448h.1M588,449h.1M588,416.5h.1M588.3,416.4h.1M588.5,444.9h.1M588.7,444.1h.1M588.9,414.8h.1M589.4,445.6h.1M589.6,414.4h.1M589.6,413.9h.1M590,443.8h.1M590.1,411.7h.1M590.8,444.6h.1M591.3,442.2h.1M591.6,449.3h.1M591.7,444h.1M591.7,413.9h.1M592.2,444.6h.1M593.1,441.9h.1M593.2,401.9h.1M594.3,445.1h.1M594.5,440.5h.1M594.6,413.7h.1M594.7,414h.1M595.2,413.3h.1M596,441.6h.1M596.5,412.4h.1M597.1,410.6h.1M597.2,406.7h.1M597.3,440h.1M598.2,412.1h.1M598.3,436.4h.1M599,434.2h.1M599.1,433.5h.1M599.3,434h.1M600.6,446.9h.1M601.2,403.1h.1M602.8,434.9h.1M603,408h.1M604.1,401h.1M605.2,403.9h.1M605.5,404.7h.1M606.1,390.1h.1M607,400.9h.1M607.2,404.9h.1M608.1,428.4h.1M608.5,406.7h.1M609,408.5h.1M610.3,403.1h.1M610.8,425.9h.1M611.2,427.8h.1M611.6,435.4h.1M612,397h.1M612.4,405.6h.1M612.5,424h.1M613.4,407.7h.1M614.5,406.9h.1M614.9,423h.1M615.5,423.1h.1M616.5,425.7h.1M616.8,405.1h.1M617.1,424.2h.1M617.3,421.8h.1M617.4,405.4h.1M617.5,427.2h.1M617.7,424.3h.1M619,405h.1M619.4,399.5h.1M619.5,405.8h.1M619.6,428h.1M619.7,421.1h.1M619.9,419.4h.1M620,421.4h.1M621.3,427.4h.1M621.8,420.9h.1M622.3,418.7h.1M622.7,431.3h.1M623.5,464.3h.1M623.7,419.2h.1M624.1,418.9h.1M625.2,423.9h.1M626.3,416.6h.1M627.3,400.5h.1M627.9,390.1h.1M628.9,402.6h.1M629.1,415.5h.1M629.4,416.7h.1M630.7,401.3h.1M631.2,392.1h.1M631.2,432.9h.1M632.1,399.7h.1M632.2,401.1h.1M632.4,398.3h.1M633,413h.1M634.7,392.3h.1M636.3,400.1h.1M636.8,407.2h.1M637.1,402.1h.1M637.3,402.3h.1M637.3,405.5h.1M640,403.4h.1M641.2,402.2h.1M641.9,402.4h.1M642.5,397.8h.1M643.2,404.8h.1M646,397.5h.1" stroke="#00ccff" stroke-width="0.75" stroke-linecap="square" fill="none" opacity="0.7"/>
<rect x="545.2" y="367.2" width="124.2" height="123.8" fill="none" stroke="#58595b" stroke-width="0.9"/>
<path d="M545.9,491v4.6M581.8,491v4.6M617.7,491v4.6M653.8,491v4.6M545.2,377.6h-5M545.2,402.5h-5M545.2,427.5h-5M545.2,452.4h-5M545.2,477.4h-5" stroke="#58595b" stroke-width="0.9" fill="none"/>
<text x="545.9" y="509.2" font-size="10.3" text-anchor="middle">2</text>
<text x="581.8" y="509.2" font-size="10.3" text-anchor="middle">3</text>
<text x="617.7" y="509.2" font-size="10.3" text-anchor="middle">4</text>
<text x="653.8" y="509.2" font-size="10.3" text-anchor="middle">5</text>
<text x="550.9" y="382.3" font-size="12.4" textLength="71.7" lengthAdjust="spacingAndGlyphs">C3AR1-ΔEL2</text>
<g transform="translate(10.2,176.8) rotate(-90)">
<text x="-44.5" y="0" font-size="12.8" textLength="17.2" lengthAdjust="spacingAndGlyphs">log</text>
<text x="-27.2" y="3.2" font-size="8.8" textLength="9.9" lengthAdjust="spacingAndGlyphs">10</text>
<text x="-17.3" y="0" font-size="12.8" textLength="61.7" lengthAdjust="spacingAndGlyphs">(substrate)</text>
</g>
<g transform="translate(10.2,429) rotate(-90)">
<text x="-44.5" y="0" font-size="12.8" textLength="17.2" lengthAdjust="spacingAndGlyphs">log</text>
<text x="-27.2" y="3.2" font-size="8.8" textLength="9.9" lengthAdjust="spacingAndGlyphs">10</text>
<text x="-17.3" y="0" font-size="12.8" textLength="61.7" lengthAdjust="spacingAndGlyphs">(substrate)</text>
</g>
<g transform="translate(364.7,176.8) rotate(-90)">
<text x="-44.5" y="0" font-size="12.8" textLength="17.2" lengthAdjust="spacingAndGlyphs">log</text>
<text x="-27.2" y="3.2" font-size="8.8" textLength="9.9" lengthAdjust="spacingAndGlyphs">10</text>
<text x="-17.3" y="0" font-size="12.8" textLength="61.7" lengthAdjust="spacingAndGlyphs">(substrate)</text>
</g>
<g transform="translate(364.7,429) rotate(-90)">
<text x="-44.5" y="0" font-size="12.8" textLength="17.2" lengthAdjust="spacingAndGlyphs">log</text>
<text x="-27.2" y="3.2" font-size="8.8" textLength="9.9" lengthAdjust="spacingAndGlyphs">10</text>
<text x="-17.3" y="0" font-size="12.8" textLength="61.7" lengthAdjust="spacingAndGlyphs">(substrate)</text>
</g>
<text x="108" y="529.4" font-size="12.8" textLength="17.7" lengthAdjust="spacingAndGlyphs">log</text>
<text x="125.7" y="532.6" font-size="8.8" textLength="10.1" lengthAdjust="spacingAndGlyphs">10</text>
<text x="135.8" y="529.4" font-size="12.8" textLength="113.4" lengthAdjust="spacingAndGlyphs">(translation control)</text>
<text x="462.7" y="529.4" font-size="12.8" textLength="17.7" lengthAdjust="spacingAndGlyphs">log</text>
<text x="480.4" y="532.6" font-size="8.8" textLength="10.1" lengthAdjust="spacingAndGlyphs">10</text>
<text x="490.5" y="529.4" font-size="12.8" textLength="113.4" lengthAdjust="spacingAndGlyphs">(translation control)</text>
<defs><linearGradient id="dg" x1="0" y1="0" x2="0" y2="1"><stop offset="0" stop-color="#e6e6e6"/><stop offset="0.2" stop-color="#eeeeee"/><stop offset="0.36" stop-color="#f6f6f6"/><stop offset="0.5" stop-color="#ffffff"/><stop offset="1" stop-color="#ffffff"/></linearGradient><clipPath id="dc"><rect x="0" y="660" width="685" height="62"/></clipPath></defs>
<g clip-path="url(#dc)"><ellipse cx="220" cy="721" rx="109" ry="45" fill="url(#dg)"/><ellipse cx="481" cy="721" rx="109" ry="45" fill="url(#dg)"/></g>
<ellipse cx="213.7" cy="697.3" rx="13.8" ry="5.9" fill="#a9a9a9"/>
<ellipse cx="472.8" cy="695.6" rx="13.2" ry="6" fill="#a9a9a9"/>
<path d="M239.6,666L238.9,673Q239.5,678 241.5,678.9Q244,678.6 248.4,672.3L246.2,666Z" fill="#8b7058"/>
<path d="M245.5,666L248.4,671.5Q251,674.6 254,674.4Q257.5,673 258.6,666Z" fill="#c5ae95"/>
<path d="M497.3,666L496.9,674.9Q498,679.5 500.8,679.8Q504,679 507.7,671.1L505.8,666Z" fill="#8b7058"/>
<path d="M504.9,666L508.7,671.1Q511.5,673.2 514.4,672.6Q517.5,671 519.7,666Z" fill="#c5ae95"/>
<path d="M481.6,666L490.2,666L482.6,686.6Q480.6,689.2 478.4,688.3Q476.2,687 476.7,684.2Z" fill="#ed1c24"/>
<path d="M479.4,687.5L472.7,700" stroke="#ed1c24" stroke-width="1.5" fill="none" stroke-linecap="round"/>
<path d="M533.2,667L537.6,673" stroke="#ed1c24" stroke-width="2.1" fill="none" stroke-dasharray="1.7 1.5"/>
<polygon points="59,648 165.5,627.6 652.2,623.5 597,648" fill="#cacaca"/>
<polygon points="59,648 597,648 597,667 59,666.9" fill="#dedede"/>
<polygon points="597,648 652.2,623.5 652.2,638.9 597,667" fill="#aaaaaa"/>
<path d="M331.5,657.2H361.5" stroke="#4d4d4f" stroke-width="1.5" fill="none"/>
<path d="M328.4,657.2L334.8,654.2L333.5,657.2L334.8,660.2ZM364.5,657.2L358.1,654.2L359.4,657.2L358.1,660.2Z" fill="#4d4d4f"/>
<path d="M210.4,622.6A24.2,5.8 0 0 1 258.9,622.6L256.4,630.8A21.2,5 0 0 1 214.1,631.2Z" fill="#c5ae94"/>
<ellipse cx="234.65" cy="622.4" rx="24.25" ry="5.7" fill="#ccb69d"/>
<ellipse cx="234.5" cy="621.6" rx="10.2" ry="2.75" fill="#5e4332"/>
<ellipse cx="234.5" cy="621.6" rx="4.8" ry="1.15" fill="#c9b198"/>
<path d="M200.4,625.3Q209.5,630 213.8,638" stroke="#ed1c24" stroke-width="1.7" fill="none" stroke-dasharray="2 1.9"/>
<circle cx="216.3" cy="641.1" r="3.6" fill="#ed1c24"/>
<path d="M149.5,651.9C149.5,649.7 150.1,647.7 151.7,646.1C153.3,644.5 156.1,643.1 159,642.4C161.9,641.6 165.9,641.5 169.2,641.6C172.5,641.7 176.4,642.1 178.7,643.1C181,644.1 182.2,645.7 183.1,647.5C183.9,649.3 184.1,652 183.8,654.1C183.6,656.2 182.5,657.4 181.6,659.9C180.7,662.4 178.9,666.6 178.4,669.4C177.9,672.2 178.3,674.3 178.7,676.7C179.1,679.1 179.9,682 180.9,684C181.9,686 183.8,687.1 184.5,688.6C185.2,690.1 185.2,691.2 184.8,693C184.4,694.8 183.6,697.9 182.3,699.3C181,700.7 179.1,701.5 177.2,701.5C175.3,701.5 173,700.5 170.7,699.3C168.4,698.1 165.5,696.3 163.4,694.2C161.3,692.1 159.3,689.6 158.2,686.9C157.1,684.2 157.3,681.4 156.8,678.2C156.3,675.1 156.2,671.2 155.3,668C154.5,664.8 152.7,661.9 151.7,659.2C150.7,656.5 149.5,654.1 149.5,651.9Z" fill="#c48bbf"/>
<path d="M182.3,658.9C181.8,658.9 179.3,661 178,662.5C176.7,664 175.4,665.4 174.3,668C173.2,670.6 171.6,674.8 171.6,678.2C171.6,681.6 172.8,685.9 174.3,688.4C175.8,690.9 178.8,692.6 180.5,693.4C182.2,694.2 184,693.8 184.7,693C185.4,692.2 185.1,690.1 184.5,688.6C183.9,687.1 181.9,686 180.9,684C179.9,682 179.1,679.1 178.7,676.7C178.3,674.3 178,671.7 178.4,669.4C178.8,667.1 180.2,664.5 180.9,662.8C181.6,661 182.8,658.9 182.3,658.9Z" fill="#896b8d"/>
<path d="M181,661.8Q189,658.6 201.3,660.2Q212,663 220.4,666.6L220.4,672.6Q218,676.5 213,677L185,669Z" fill="#fff"/>
<path d="M219.7,667.2Q220.2,674.5 212,675.2M185.4,667.5Q181.5,671.5 184,676M207.5,683.6Q212.6,688.5 212.9,695L211.4,703" stroke="#ed1c24" stroke-width="1.6" fill="none" stroke-linecap="round"/>
<path d="M185,676.4Q193.5,682.6 205.9,683.2" stroke="#fff" stroke-width="7.7" fill="none" stroke-linecap="round"/>
<path d="M185,676.4Q193.5,682.6 205.9,683.2" stroke="#ed1c24" stroke-width="6.3" fill="none" stroke-linecap="round"/>
<path d="M186.2,668Q191.5,665.4 198.4,670.2Q204.5,674.2 209.9,674.5" stroke="#fff" stroke-width="7.7" fill="none" stroke-linecap="round"/>
<path d="M186.2,668Q191.5,665.4 198.4,670.2Q204.5,674.2 209.9,674.5" stroke="#ed1c24" stroke-width="6.3" fill="none" stroke-linecap="round"/>
<path d="M425.2,590.4C425.2,588.8 426.8,587.5 429,586.6C431.2,585.7 435,584.9 438.5,584.7C442,584.5 446.5,584.5 449.8,585.3C453.1,586.1 456.2,587.5 458.4,589.5C460.6,591.5 461.8,594.4 463.1,597.1C464.4,599.8 465.7,602.9 466,605.6C466.3,608.3 465.8,611.3 465,613.2C464.2,615.1 462.9,616.2 461.2,617C459.5,617.8 456.8,617.6 454.6,618C452.4,618.4 449.2,618.9 448,619.5C446.8,620.1 446.8,620.9 447.3,621.4C447.8,621.9 449.1,622.4 450.8,622.7C452.5,623 455.2,622.1 457.4,623C459.6,623.9 462.6,626 464,628C465.4,630 465.8,632.6 465.5,635C465.2,637.4 462.3,640.1 462.5,642.6C462.7,645.1 465.5,647.4 466.9,650.2C468.3,653.1 470.1,656.9 470.7,659.7C471.3,662.6 471.2,665.1 470.3,667.3C469.4,669.5 467.1,671.4 465,673C462.9,674.6 459.1,675.2 457.4,676.8C455.7,678.4 455.2,680 454.6,682.5C454,685 454.7,689.6 453.6,692C452.5,694.4 449.7,696.2 448,696.7C446.3,697.2 444.3,696.5 443.2,694.8C442.1,693.1 441.4,689.6 441.3,686.3C441.2,683 442.5,678.7 442.3,674.9C442.1,671.1 442,666.7 440.4,663.5C438.8,660.3 434.9,658.8 432.8,655.9C430.7,653 428.8,649.6 428,646.4C427.2,643.2 428.8,639.8 428,636.9C427.2,634 424.4,632 423.3,629.3C422.2,626.6 420.9,623.3 421.4,620.8C421.9,618.3 423.9,615.9 426.1,614.2C428.3,612.5 431.9,611.5 434.7,610.4C437.5,609.3 441.1,608.6 443.2,607.5C445.2,606.4 446.8,605.1 447,603.7C447.2,602.3 445.9,600.1 444.2,599C442.5,597.9 439.1,597.6 436.6,597.1C434.1,596.6 430.9,597.2 429,596.1C427.1,595 425.2,592 425.2,590.4Z" fill="#8ac7e2"/>
<ellipse cx="450.1" cy="640" rx="12.6" ry="6" transform="rotate(-24 450.1 640)" fill="#2d607e"/>
<path d="M465,621.5A29,7.6 0 0 1 523,621.5L521.5,631Q520,638.5 505,637.3Q485,637.5 470,630.5Z" fill="#c5ae94"/>
<ellipse cx="494" cy="621.4" rx="29" ry="7.6" fill="#ccb69d"/>
<path d="M476.5,621.8Q478,617.6 492,617.6Q512,618 522.6,622L520.5,636.5Q516,638 512,634L510,626.5Q497,624.8 483,625.6Q477.5,625 476.5,621.8Z" fill="#6b4c3a"/>
<path d="M447,645.5Q441.5,644.5 445.1,640.7Q447,631 455.5,620.8Q466,612.5 485.9,610Q501,611.5 508.7,621.7L512.5,628.4M447,645.5Q455.5,644 463.1,635L472.6,620.8Q477,616.4 481.5,617.2Q486.5,619.5 489.7,624.6" stroke="#ed1c24" stroke-width="1.9" fill="none" stroke-linecap="round" stroke-linejoin="round"/>
<path d="M512.4,628L517.6,635.6" stroke="#ed1c24" stroke-width="6.4" fill="none" stroke-linecap="round"/>
<rect x="121.2" y="581.2" width="49.9" height="31.6" fill="#fff200"/>
<text x="125.6" y="593.3" font-size="12.4" textLength="40.8" lengthAdjust="spacingAndGlyphs">Closed</text>
<text x="128" y="607.6" font-size="12.4" textLength="35.7" lengthAdjust="spacingAndGlyphs">Sec61</text>
<rect x="514.6" y="571" width="48.6" height="31.6" fill="#fff200"/>
<text x="523" y="583.7" font-size="12.4" textLength="31.5" lengthAdjust="spacingAndGlyphs">Open</text>
<text x="521.9" y="597.4" font-size="12.4" textLength="34.7" lengthAdjust="spacingAndGlyphs">Sec61</text>
<text x="203.8" y="570" font-size="12.4" textLength="51.7" lengthAdjust="spacingAndGlyphs">Engaged</text>
<text x="216.1" y="584.5" font-size="12.4" textLength="26.6" lengthAdjust="spacingAndGlyphs">plug</text>
<text x="281.9" y="590" font-size="12.4" textLength="41.3" lengthAdjust="spacingAndGlyphs">Closed</text>
<text x="270.2" y="603.5" font-size="12.4" textLength="64.2" lengthAdjust="spacingAndGlyphs">lateral gate</text>
<text x="406.7" y="578.8" font-size="12.4" textLength="36.1" lengthAdjust="spacingAndGlyphs">OST-A</text>
<text x="596.8" y="619.7" font-size="12.4" textLength="39.3" lengthAdjust="spacingAndGlyphs">Lumen</text>
<text x="118.7" y="683" font-size="12.4" textLength="25.1" lengthAdjust="spacingAndGlyphs">MPT</text>
<text x="181.2" y="734.9" font-size="12.4" textLength="97" lengthAdjust="spacingAndGlyphs">MPT translocates</text>
<text x="151.4" y="748.5" font-size="12.4" textLength="156.5" lengthAdjust="spacingAndGlyphs">short hydrophilic segments</text>
<text x="422.4" y="734.9" font-size="12.4" textLength="107" lengthAdjust="spacingAndGlyphs">Sec61 translocates</text>
<text x="399.3" y="748.5" font-size="12.4" textLength="152.9" lengthAdjust="spacingAndGlyphs">long hydrophilic segments</text>
<path d="M230.4,590.5L232.9,607.2M283.6,608.7L267.6,620.3" stroke="#2f4259" stroke-width="1.5" fill="none"/>
<path d="M233.6,610.8L229.7,605.1L232.6,606.1L235.2,604.3ZM262.9,623.3L266.6,617.5L267.3,620.4L270,621.9Z" fill="#2f4259"/>
</svg></body></html>
